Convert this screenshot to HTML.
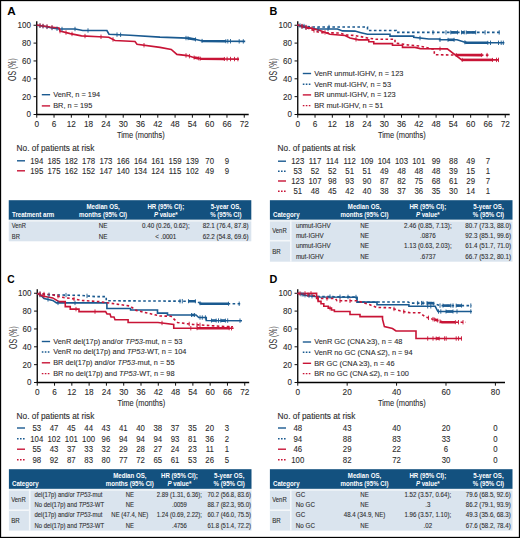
<!DOCTYPE html>
<html><head><meta charset="utf-8"><style>
html,body{margin:0;padding:0;background:#fff;width:520px;height:538px;overflow:hidden;position:relative;font-family:"Liberation Sans", sans-serif;}
</style></head><body>
<svg width="520" height="538" viewBox="0 0 520 538" style="position:absolute;left:0;top:0;font-family:'Liberation Sans', sans-serif">
<rect x="0" y="0" width="520" height="538" fill="#fff"/>
<text transform="translate(7.20,14.79) scale(1.080,1)" font-size="10.80" text-anchor="start" font-weight="bold" fill="#000">A</text>
<line x1="36.75" y1="21.20" x2="36.75" y2="115.10" stroke="#000" stroke-width="1.30"/>
<line x1="36.15" y1="114.50" x2="248.70" y2="114.50" stroke="#000" stroke-width="1.30"/>
<line x1="33.55" y1="114.50" x2="36.75" y2="114.50" stroke="#111" stroke-width="1.00"/>
<text transform="translate(31.00,117.49) scale(0.970,1)" font-size="8.30" text-anchor="end" font-weight="normal" fill="#2c2c2c" stroke="#2c2c2c" stroke-width="0.10">0</text>
<line x1="33.55" y1="96.65" x2="36.75" y2="96.65" stroke="#111" stroke-width="1.00"/>
<text transform="translate(31.00,99.64) scale(0.970,1)" font-size="8.30" text-anchor="end" font-weight="normal" fill="#2c2c2c" stroke="#2c2c2c" stroke-width="0.10">20</text>
<line x1="33.55" y1="78.80" x2="36.75" y2="78.80" stroke="#111" stroke-width="1.00"/>
<text transform="translate(31.00,81.79) scale(0.970,1)" font-size="8.30" text-anchor="end" font-weight="normal" fill="#2c2c2c" stroke="#2c2c2c" stroke-width="0.10">40</text>
<line x1="33.55" y1="60.95" x2="36.75" y2="60.95" stroke="#111" stroke-width="1.00"/>
<text transform="translate(31.00,63.94) scale(0.970,1)" font-size="8.30" text-anchor="end" font-weight="normal" fill="#2c2c2c" stroke="#2c2c2c" stroke-width="0.10">60</text>
<line x1="33.55" y1="43.10" x2="36.75" y2="43.10" stroke="#111" stroke-width="1.00"/>
<text transform="translate(31.00,46.09) scale(0.970,1)" font-size="8.30" text-anchor="end" font-weight="normal" fill="#2c2c2c" stroke="#2c2c2c" stroke-width="0.10">80</text>
<line x1="33.55" y1="25.25" x2="36.75" y2="25.25" stroke="#111" stroke-width="1.00"/>
<text transform="translate(31.00,28.24) scale(0.970,1)" font-size="8.30" text-anchor="end" font-weight="normal" fill="#2c2c2c" stroke="#2c2c2c" stroke-width="0.10">100</text>
<text transform="translate(16.40,69.60) rotate(-90) scale(0.69,1)" font-size="10.0" text-anchor="middle" fill="#2c2c2c">OS (%)</text>
<line x1="36.75" y1="114.50" x2="36.75" y2="117.70" stroke="#111" stroke-width="1.00"/>
<text transform="translate(36.75,126.86) scale(0.970,1)" font-size="8.50" text-anchor="middle" font-weight="normal" fill="#2c2c2c" stroke="#2c2c2c" stroke-width="0.10">0</text>
<line x1="54.04" y1="114.50" x2="54.04" y2="117.70" stroke="#111" stroke-width="1.00"/>
<text transform="translate(54.04,126.86) scale(0.970,1)" font-size="8.50" text-anchor="middle" font-weight="normal" fill="#2c2c2c" stroke="#2c2c2c" stroke-width="0.10">6</text>
<line x1="71.33" y1="114.50" x2="71.33" y2="117.70" stroke="#111" stroke-width="1.00"/>
<text transform="translate(71.33,126.86) scale(0.970,1)" font-size="8.50" text-anchor="middle" font-weight="normal" fill="#2c2c2c" stroke="#2c2c2c" stroke-width="0.10">12</text>
<line x1="88.62" y1="114.50" x2="88.62" y2="117.70" stroke="#111" stroke-width="1.00"/>
<text transform="translate(88.62,126.86) scale(0.970,1)" font-size="8.50" text-anchor="middle" font-weight="normal" fill="#2c2c2c" stroke="#2c2c2c" stroke-width="0.10">18</text>
<line x1="105.92" y1="114.50" x2="105.92" y2="117.70" stroke="#111" stroke-width="1.00"/>
<text transform="translate(105.92,126.86) scale(0.970,1)" font-size="8.50" text-anchor="middle" font-weight="normal" fill="#2c2c2c" stroke="#2c2c2c" stroke-width="0.10">24</text>
<line x1="123.21" y1="114.50" x2="123.21" y2="117.70" stroke="#111" stroke-width="1.00"/>
<text transform="translate(123.21,126.86) scale(0.970,1)" font-size="8.50" text-anchor="middle" font-weight="normal" fill="#2c2c2c" stroke="#2c2c2c" stroke-width="0.10">30</text>
<line x1="140.50" y1="114.50" x2="140.50" y2="117.70" stroke="#111" stroke-width="1.00"/>
<text transform="translate(140.50,126.86) scale(0.970,1)" font-size="8.50" text-anchor="middle" font-weight="normal" fill="#2c2c2c" stroke="#2c2c2c" stroke-width="0.10">36</text>
<line x1="157.79" y1="114.50" x2="157.79" y2="117.70" stroke="#111" stroke-width="1.00"/>
<text transform="translate(157.79,126.86) scale(0.970,1)" font-size="8.50" text-anchor="middle" font-weight="normal" fill="#2c2c2c" stroke="#2c2c2c" stroke-width="0.10">42</text>
<line x1="175.08" y1="114.50" x2="175.08" y2="117.70" stroke="#111" stroke-width="1.00"/>
<text transform="translate(175.08,126.86) scale(0.970,1)" font-size="8.50" text-anchor="middle" font-weight="normal" fill="#2c2c2c" stroke="#2c2c2c" stroke-width="0.10">48</text>
<line x1="192.38" y1="114.50" x2="192.38" y2="117.70" stroke="#111" stroke-width="1.00"/>
<text transform="translate(192.38,126.86) scale(0.970,1)" font-size="8.50" text-anchor="middle" font-weight="normal" fill="#2c2c2c" stroke="#2c2c2c" stroke-width="0.10">54</text>
<line x1="209.67" y1="114.50" x2="209.67" y2="117.70" stroke="#111" stroke-width="1.00"/>
<text transform="translate(209.67,126.86) scale(0.970,1)" font-size="8.50" text-anchor="middle" font-weight="normal" fill="#2c2c2c" stroke="#2c2c2c" stroke-width="0.10">60</text>
<line x1="226.96" y1="114.50" x2="226.96" y2="117.70" stroke="#111" stroke-width="1.00"/>
<text transform="translate(226.96,126.86) scale(0.970,1)" font-size="8.50" text-anchor="middle" font-weight="normal" fill="#2c2c2c" stroke="#2c2c2c" stroke-width="0.10">66</text>
<line x1="244.25" y1="114.50" x2="244.25" y2="117.70" stroke="#111" stroke-width="1.00"/>
<text transform="translate(244.25,126.86) scale(0.970,1)" font-size="8.50" text-anchor="middle" font-weight="normal" fill="#2c2c2c" stroke="#2c2c2c" stroke-width="0.10">72</text>
<text transform="translate(140.80,138.24) scale(0.830,1)" font-size="9.00" text-anchor="middle" font-weight="normal" fill="#2c2c2c" stroke="#2c2c2c" stroke-width="0.10">Time (months)</text>
<line x1="41.80" y1="94.70" x2="50.10" y2="94.70" stroke="#1a5a90" stroke-width="1.40"/>
<text transform="translate(53.20,97.02) scale(0.910,1)" font-size="8.10" text-anchor="start" font-weight="normal" fill="#2c2c2c" stroke="#2c2c2c" stroke-width="0.10">VenR, n = 194</text>
<line x1="41.80" y1="105.90" x2="50.10" y2="105.90" stroke="#c81436" stroke-width="1.40"/>
<text transform="translate(53.20,108.22) scale(0.910,1)" font-size="8.10" text-anchor="start" font-weight="normal" fill="#2c2c2c" stroke="#2c2c2c" stroke-width="0.10">BR, n = 195</text>
<polyline points="36.75,25.25 45.00,26.50 52.00,28.00 59.00,29.00 75.25,29.00 82.75,30.50 106.90,30.50 109.00,34.25 130.00,35.20 160.00,37.10 187.50,38.10 196.00,39.50 202.50,41.00 245.20,41.40" fill="none" stroke="#1a5a90" stroke-width="1.60" stroke-linejoin="miter" stroke-miterlimit="10"/>
<polyline points="36.75,25.00 50.00,27.00 59.00,28.00 60.00,31.10 70.25,33.60 81.50,35.90 99.00,36.70 108.75,37.25 115.00,40.50 135.00,41.50 137.00,44.25 160.00,47.40 171.25,49.40 176.90,54.40 187.50,55.60 193.75,57.50 201.00,58.75 239.00,59.10" fill="none" stroke="#c81436" stroke-width="1.60" stroke-linejoin="miter" stroke-miterlimit="10"/>
<line x1="40.00" y1="23.54" x2="40.00" y2="27.94" stroke="#1a5a90" stroke-width="0.90"/>
<line x1="43.00" y1="24.00" x2="43.00" y2="28.40" stroke="#1a5a90" stroke-width="0.90"/>
<line x1="47.00" y1="24.73" x2="47.00" y2="29.13" stroke="#1a5a90" stroke-width="0.90"/>
<line x1="52.00" y1="25.80" x2="52.00" y2="30.20" stroke="#1a5a90" stroke-width="0.90"/>
<line x1="57.00" y1="26.51" x2="57.00" y2="30.91" stroke="#1a5a90" stroke-width="0.90"/>
<line x1="62.00" y1="26.80" x2="62.00" y2="31.20" stroke="#1a5a90" stroke-width="0.90"/>
<line x1="75.00" y1="26.80" x2="75.00" y2="31.20" stroke="#1a5a90" stroke-width="0.90"/>
<line x1="88.00" y1="28.30" x2="88.00" y2="32.70" stroke="#1a5a90" stroke-width="0.90"/>
<line x1="117.00" y1="32.41" x2="117.00" y2="36.81" stroke="#1a5a90" stroke-width="0.90"/>
<line x1="120.60" y1="32.57" x2="120.60" y2="36.97" stroke="#1a5a90" stroke-width="0.90"/>
<line x1="186.00" y1="35.85" x2="186.00" y2="40.25" stroke="#1a5a90" stroke-width="0.90"/>
<line x1="227.80" y1="39.04" x2="227.80" y2="43.44" stroke="#1a5a90" stroke-width="0.90"/>
<line x1="230.50" y1="39.06" x2="230.50" y2="43.46" stroke="#1a5a90" stroke-width="0.90"/>
<line x1="239.20" y1="39.14" x2="239.20" y2="43.54" stroke="#1a5a90" stroke-width="0.90"/>
<line x1="243.30" y1="39.18" x2="243.30" y2="43.58" stroke="#1a5a90" stroke-width="0.90"/>
<polyline points="188.00,38.18 195.50,39.42" fill="none" stroke="#1a5a90" stroke-width="2.60" stroke-linejoin="miter" stroke-miterlimit="10"/>
<line x1="188.00" y1="36.18" x2="188.00" y2="40.18" stroke="#1a5a90" stroke-width="0.90"/>
<line x1="195.50" y1="37.42" x2="195.50" y2="41.42" stroke="#1a5a90" stroke-width="0.90"/>
<polyline points="202.00,40.88 202.50,41.00 225.80,41.22" fill="none" stroke="#1a5a90" stroke-width="2.60" stroke-linejoin="miter" stroke-miterlimit="10"/>
<line x1="202.00" y1="38.88" x2="202.00" y2="42.88" stroke="#1a5a90" stroke-width="0.90"/>
<line x1="225.80" y1="39.22" x2="225.80" y2="43.22" stroke="#1a5a90" stroke-width="0.90"/>
<line x1="40.00" y1="23.29" x2="40.00" y2="27.69" stroke="#c81436" stroke-width="0.90"/>
<line x1="43.00" y1="23.74" x2="43.00" y2="28.14" stroke="#c81436" stroke-width="0.90"/>
<line x1="47.00" y1="24.35" x2="47.00" y2="28.75" stroke="#c81436" stroke-width="0.90"/>
<line x1="52.00" y1="25.02" x2="52.00" y2="29.42" stroke="#c81436" stroke-width="0.90"/>
<line x1="60.00" y1="28.90" x2="60.00" y2="33.30" stroke="#c81436" stroke-width="0.90"/>
<line x1="66.00" y1="30.36" x2="66.00" y2="34.76" stroke="#c81436" stroke-width="0.90"/>
<line x1="72.00" y1="31.76" x2="72.00" y2="36.16" stroke="#c81436" stroke-width="0.90"/>
<line x1="85.00" y1="33.86" x2="85.00" y2="38.26" stroke="#c81436" stroke-width="0.90"/>
<line x1="101.00" y1="34.61" x2="101.00" y2="39.01" stroke="#c81436" stroke-width="0.90"/>
<line x1="113.00" y1="37.26" x2="113.00" y2="41.66" stroke="#c81436" stroke-width="0.90"/>
<line x1="144.00" y1="43.01" x2="144.00" y2="47.41" stroke="#c81436" stroke-width="0.90"/>
<line x1="186.00" y1="53.23" x2="186.00" y2="57.63" stroke="#c81436" stroke-width="0.90"/>
<line x1="189.40" y1="53.98" x2="189.40" y2="58.38" stroke="#c81436" stroke-width="0.90"/>
<line x1="227.10" y1="56.79" x2="227.10" y2="61.19" stroke="#c81436" stroke-width="0.90"/>
<line x1="230.50" y1="56.82" x2="230.50" y2="61.22" stroke="#c81436" stroke-width="0.90"/>
<line x1="234.50" y1="56.86" x2="234.50" y2="61.26" stroke="#c81436" stroke-width="0.90"/>
<line x1="237.90" y1="56.89" x2="237.90" y2="61.29" stroke="#c81436" stroke-width="0.90"/>
<polyline points="194.10,57.56 198.80,58.37" fill="none" stroke="#c81436" stroke-width="2.60" stroke-linejoin="miter" stroke-miterlimit="10"/>
<line x1="194.10" y1="55.56" x2="194.10" y2="59.56" stroke="#c81436" stroke-width="0.90"/>
<line x1="198.80" y1="56.37" x2="198.80" y2="60.37" stroke="#c81436" stroke-width="0.90"/>
<polyline points="200.20,58.61 201.00,58.75 224.40,58.97" fill="none" stroke="#c81436" stroke-width="2.60" stroke-linejoin="miter" stroke-miterlimit="10"/>
<line x1="200.20" y1="56.61" x2="200.20" y2="60.61" stroke="#c81436" stroke-width="0.90"/>
<line x1="224.40" y1="56.97" x2="224.40" y2="60.97" stroke="#c81436" stroke-width="0.90"/>
<text transform="translate(16.60,150.95) scale(1.010,1)" font-size="8.20" text-anchor="start" font-weight="normal" fill="#2c2c2c" stroke="#2c2c2c" stroke-width="0.10">No. of patients at risk</text>
<line x1="17.00" y1="160.80" x2="25.00" y2="160.80" stroke="#1a5a90" stroke-width="1.40"/>
<text transform="translate(36.75,163.79) scale(0.940,1)" font-size="8.30" text-anchor="middle" font-weight="normal" fill="#2c2c2c" stroke="#2c2c2c" stroke-width="0.10">194</text>
<text transform="translate(54.04,163.79) scale(0.940,1)" font-size="8.30" text-anchor="middle" font-weight="normal" fill="#2c2c2c" stroke="#2c2c2c" stroke-width="0.10">185</text>
<text transform="translate(71.33,163.79) scale(0.940,1)" font-size="8.30" text-anchor="middle" font-weight="normal" fill="#2c2c2c" stroke="#2c2c2c" stroke-width="0.10">182</text>
<text transform="translate(88.62,163.79) scale(0.940,1)" font-size="8.30" text-anchor="middle" font-weight="normal" fill="#2c2c2c" stroke="#2c2c2c" stroke-width="0.10">178</text>
<text transform="translate(105.92,163.79) scale(0.940,1)" font-size="8.30" text-anchor="middle" font-weight="normal" fill="#2c2c2c" stroke="#2c2c2c" stroke-width="0.10">173</text>
<text transform="translate(123.21,163.79) scale(0.940,1)" font-size="8.30" text-anchor="middle" font-weight="normal" fill="#2c2c2c" stroke="#2c2c2c" stroke-width="0.10">166</text>
<text transform="translate(140.50,163.79) scale(0.940,1)" font-size="8.30" text-anchor="middle" font-weight="normal" fill="#2c2c2c" stroke="#2c2c2c" stroke-width="0.10">164</text>
<text transform="translate(157.79,163.79) scale(0.940,1)" font-size="8.30" text-anchor="middle" font-weight="normal" fill="#2c2c2c" stroke="#2c2c2c" stroke-width="0.10">161</text>
<text transform="translate(175.08,163.79) scale(0.940,1)" font-size="8.30" text-anchor="middle" font-weight="normal" fill="#2c2c2c" stroke="#2c2c2c" stroke-width="0.10">159</text>
<text transform="translate(192.38,163.79) scale(0.940,1)" font-size="8.30" text-anchor="middle" font-weight="normal" fill="#2c2c2c" stroke="#2c2c2c" stroke-width="0.10">139</text>
<text transform="translate(209.67,163.79) scale(0.940,1)" font-size="8.30" text-anchor="middle" font-weight="normal" fill="#2c2c2c" stroke="#2c2c2c" stroke-width="0.10">70</text>
<text transform="translate(226.96,163.79) scale(0.940,1)" font-size="8.30" text-anchor="middle" font-weight="normal" fill="#2c2c2c" stroke="#2c2c2c" stroke-width="0.10">9</text>
<line x1="17.00" y1="170.80" x2="25.00" y2="170.80" stroke="#c81436" stroke-width="1.40"/>
<text transform="translate(36.75,173.79) scale(0.940,1)" font-size="8.30" text-anchor="middle" font-weight="normal" fill="#2c2c2c" stroke="#2c2c2c" stroke-width="0.10">195</text>
<text transform="translate(54.04,173.79) scale(0.940,1)" font-size="8.30" text-anchor="middle" font-weight="normal" fill="#2c2c2c" stroke="#2c2c2c" stroke-width="0.10">175</text>
<text transform="translate(71.33,173.79) scale(0.940,1)" font-size="8.30" text-anchor="middle" font-weight="normal" fill="#2c2c2c" stroke="#2c2c2c" stroke-width="0.10">162</text>
<text transform="translate(88.62,173.79) scale(0.940,1)" font-size="8.30" text-anchor="middle" font-weight="normal" fill="#2c2c2c" stroke="#2c2c2c" stroke-width="0.10">152</text>
<text transform="translate(105.92,173.79) scale(0.940,1)" font-size="8.30" text-anchor="middle" font-weight="normal" fill="#2c2c2c" stroke="#2c2c2c" stroke-width="0.10">147</text>
<text transform="translate(123.21,173.79) scale(0.940,1)" font-size="8.30" text-anchor="middle" font-weight="normal" fill="#2c2c2c" stroke="#2c2c2c" stroke-width="0.10">140</text>
<text transform="translate(140.50,173.79) scale(0.940,1)" font-size="8.30" text-anchor="middle" font-weight="normal" fill="#2c2c2c" stroke="#2c2c2c" stroke-width="0.10">134</text>
<text transform="translate(157.79,173.79) scale(0.940,1)" font-size="8.30" text-anchor="middle" font-weight="normal" fill="#2c2c2c" stroke="#2c2c2c" stroke-width="0.10">124</text>
<text transform="translate(175.08,173.79) scale(0.940,1)" font-size="8.30" text-anchor="middle" font-weight="normal" fill="#2c2c2c" stroke="#2c2c2c" stroke-width="0.10">115</text>
<text transform="translate(192.38,173.79) scale(0.940,1)" font-size="8.30" text-anchor="middle" font-weight="normal" fill="#2c2c2c" stroke="#2c2c2c" stroke-width="0.10">102</text>
<text transform="translate(209.67,173.79) scale(0.940,1)" font-size="8.30" text-anchor="middle" font-weight="normal" fill="#2c2c2c" stroke="#2c2c2c" stroke-width="0.10">49</text>
<text transform="translate(226.96,173.79) scale(0.940,1)" font-size="8.30" text-anchor="middle" font-weight="normal" fill="#2c2c2c" stroke="#2c2c2c" stroke-width="0.10">9</text>
<rect x="8.75" y="200.20" width="242.55" height="19.60" fill="#13517f"/>
<rect x="8.75" y="221.30" width="242.55" height="20.00" fill="#dae4ee"/>
<rect x="8.75" y="219.80" width="242.55" height="1.5" fill="#eef2f6"/>
<text transform="translate(12.00,216.78) scale(0.930,1)" font-size="6.60" text-anchor="start" font-weight="bold" fill="#fff">Treatment arm</text>
<text transform="translate(103.10,208.98) scale(0.930,1)" font-size="6.60" text-anchor="middle" font-weight="bold" fill="#fff">Median OS,</text>
<text transform="translate(103.10,216.78) scale(0.930,1)" font-size="6.60" text-anchor="middle" font-weight="bold" fill="#fff">months (95% CI)</text>
<text transform="translate(165.80,208.98) scale(0.930,1)" font-size="6.60" text-anchor="middle" font-weight="bold" fill="#fff">HR (95% CI);</text>
<text transform="translate(165.80,216.78) scale(0.930,1)" font-size="6.60" text-anchor="middle" font-weight="bold" fill="#fff"><tspan font-style="italic">P</tspan> value*</text>
<text transform="translate(225.80,208.98) scale(0.930,1)" font-size="6.60" text-anchor="middle" font-weight="bold" fill="#fff">5-year OS,</text>
<text transform="translate(225.80,216.78) scale(0.930,1)" font-size="6.60" text-anchor="middle" font-weight="bold" fill="#fff">% (95% CI)</text>
<text transform="translate(11.80,228.38) scale(0.880,1)" font-size="6.60" text-anchor="start" font-weight="normal" fill="#2e2e2e" stroke="#2e2e2e" stroke-width="0.10">VenR</text>
<text transform="translate(103.10,228.38) scale(0.950,1)" font-size="6.60" text-anchor="middle" font-weight="normal" fill="#2e2e2e" stroke="#2e2e2e" stroke-width="0.10">NE</text>
<text transform="translate(165.80,228.38) scale(0.950,1)" font-size="6.60" text-anchor="middle" font-weight="normal" fill="#2e2e2e" stroke="#2e2e2e" stroke-width="0.10">0.40 (0.26, 0.62);</text>
<text transform="translate(225.60,228.38) scale(0.950,1)" font-size="6.60" text-anchor="middle" font-weight="normal" fill="#2e2e2e" stroke="#2e2e2e" stroke-width="0.10">82.1 (76.4, 87.8)</text>
<text transform="translate(11.80,238.68) scale(0.880,1)" font-size="6.60" text-anchor="start" font-weight="normal" fill="#2e2e2e" stroke="#2e2e2e" stroke-width="0.10">BR</text>
<text transform="translate(103.10,238.68) scale(0.950,1)" font-size="6.60" text-anchor="middle" font-weight="normal" fill="#2e2e2e" stroke="#2e2e2e" stroke-width="0.10">NE</text>
<text transform="translate(165.80,238.68) scale(0.950,1)" font-size="6.60" text-anchor="middle" font-weight="normal" fill="#2e2e2e" stroke="#2e2e2e" stroke-width="0.10">&lt; .0001</text>
<text transform="translate(225.60,238.68) scale(0.950,1)" font-size="6.60" text-anchor="middle" font-weight="normal" fill="#2e2e2e" stroke="#2e2e2e" stroke-width="0.10">62.2 (54.8, 69.6)</text>
<text transform="translate(269.60,14.79) scale(1.000,1)" font-size="10.80" text-anchor="start" font-weight="bold" fill="#000">B</text>
<line x1="297.75" y1="21.20" x2="297.75" y2="115.10" stroke="#000" stroke-width="1.30"/>
<line x1="297.15" y1="114.50" x2="509.70" y2="114.50" stroke="#000" stroke-width="1.30"/>
<line x1="294.55" y1="114.50" x2="297.75" y2="114.50" stroke="#111" stroke-width="1.00"/>
<text transform="translate(292.00,117.49) scale(0.970,1)" font-size="8.30" text-anchor="end" font-weight="normal" fill="#2c2c2c" stroke="#2c2c2c" stroke-width="0.10">0</text>
<line x1="294.55" y1="96.65" x2="297.75" y2="96.65" stroke="#111" stroke-width="1.00"/>
<text transform="translate(292.00,99.64) scale(0.970,1)" font-size="8.30" text-anchor="end" font-weight="normal" fill="#2c2c2c" stroke="#2c2c2c" stroke-width="0.10">20</text>
<line x1="294.55" y1="78.80" x2="297.75" y2="78.80" stroke="#111" stroke-width="1.00"/>
<text transform="translate(292.00,81.79) scale(0.970,1)" font-size="8.30" text-anchor="end" font-weight="normal" fill="#2c2c2c" stroke="#2c2c2c" stroke-width="0.10">40</text>
<line x1="294.55" y1="60.95" x2="297.75" y2="60.95" stroke="#111" stroke-width="1.00"/>
<text transform="translate(292.00,63.94) scale(0.970,1)" font-size="8.30" text-anchor="end" font-weight="normal" fill="#2c2c2c" stroke="#2c2c2c" stroke-width="0.10">60</text>
<line x1="294.55" y1="43.10" x2="297.75" y2="43.10" stroke="#111" stroke-width="1.00"/>
<text transform="translate(292.00,46.09) scale(0.970,1)" font-size="8.30" text-anchor="end" font-weight="normal" fill="#2c2c2c" stroke="#2c2c2c" stroke-width="0.10">80</text>
<line x1="294.55" y1="25.25" x2="297.75" y2="25.25" stroke="#111" stroke-width="1.00"/>
<text transform="translate(292.00,28.24) scale(0.970,1)" font-size="8.30" text-anchor="end" font-weight="normal" fill="#2c2c2c" stroke="#2c2c2c" stroke-width="0.10">100</text>
<text transform="translate(277.40,69.60) rotate(-90) scale(0.69,1)" font-size="10.0" text-anchor="middle" fill="#2c2c2c">OS (%)</text>
<line x1="297.75" y1="114.50" x2="297.75" y2="117.70" stroke="#111" stroke-width="1.00"/>
<text transform="translate(297.75,126.86) scale(0.970,1)" font-size="8.50" text-anchor="middle" font-weight="normal" fill="#2c2c2c" stroke="#2c2c2c" stroke-width="0.10">0</text>
<line x1="315.04" y1="114.50" x2="315.04" y2="117.70" stroke="#111" stroke-width="1.00"/>
<text transform="translate(315.04,126.86) scale(0.970,1)" font-size="8.50" text-anchor="middle" font-weight="normal" fill="#2c2c2c" stroke="#2c2c2c" stroke-width="0.10">6</text>
<line x1="332.33" y1="114.50" x2="332.33" y2="117.70" stroke="#111" stroke-width="1.00"/>
<text transform="translate(332.33,126.86) scale(0.970,1)" font-size="8.50" text-anchor="middle" font-weight="normal" fill="#2c2c2c" stroke="#2c2c2c" stroke-width="0.10">12</text>
<line x1="349.62" y1="114.50" x2="349.62" y2="117.70" stroke="#111" stroke-width="1.00"/>
<text transform="translate(349.62,126.86) scale(0.970,1)" font-size="8.50" text-anchor="middle" font-weight="normal" fill="#2c2c2c" stroke="#2c2c2c" stroke-width="0.10">18</text>
<line x1="366.92" y1="114.50" x2="366.92" y2="117.70" stroke="#111" stroke-width="1.00"/>
<text transform="translate(366.92,126.86) scale(0.970,1)" font-size="8.50" text-anchor="middle" font-weight="normal" fill="#2c2c2c" stroke="#2c2c2c" stroke-width="0.10">24</text>
<line x1="384.21" y1="114.50" x2="384.21" y2="117.70" stroke="#111" stroke-width="1.00"/>
<text transform="translate(384.21,126.86) scale(0.970,1)" font-size="8.50" text-anchor="middle" font-weight="normal" fill="#2c2c2c" stroke="#2c2c2c" stroke-width="0.10">30</text>
<line x1="401.50" y1="114.50" x2="401.50" y2="117.70" stroke="#111" stroke-width="1.00"/>
<text transform="translate(401.50,126.86) scale(0.970,1)" font-size="8.50" text-anchor="middle" font-weight="normal" fill="#2c2c2c" stroke="#2c2c2c" stroke-width="0.10">36</text>
<line x1="418.79" y1="114.50" x2="418.79" y2="117.70" stroke="#111" stroke-width="1.00"/>
<text transform="translate(418.79,126.86) scale(0.970,1)" font-size="8.50" text-anchor="middle" font-weight="normal" fill="#2c2c2c" stroke="#2c2c2c" stroke-width="0.10">42</text>
<line x1="436.08" y1="114.50" x2="436.08" y2="117.70" stroke="#111" stroke-width="1.00"/>
<text transform="translate(436.08,126.86) scale(0.970,1)" font-size="8.50" text-anchor="middle" font-weight="normal" fill="#2c2c2c" stroke="#2c2c2c" stroke-width="0.10">48</text>
<line x1="453.38" y1="114.50" x2="453.38" y2="117.70" stroke="#111" stroke-width="1.00"/>
<text transform="translate(453.38,126.86) scale(0.970,1)" font-size="8.50" text-anchor="middle" font-weight="normal" fill="#2c2c2c" stroke="#2c2c2c" stroke-width="0.10">54</text>
<line x1="470.67" y1="114.50" x2="470.67" y2="117.70" stroke="#111" stroke-width="1.00"/>
<text transform="translate(470.67,126.86) scale(0.970,1)" font-size="8.50" text-anchor="middle" font-weight="normal" fill="#2c2c2c" stroke="#2c2c2c" stroke-width="0.10">60</text>
<line x1="487.96" y1="114.50" x2="487.96" y2="117.70" stroke="#111" stroke-width="1.00"/>
<text transform="translate(487.96,126.86) scale(0.970,1)" font-size="8.50" text-anchor="middle" font-weight="normal" fill="#2c2c2c" stroke="#2c2c2c" stroke-width="0.10">66</text>
<line x1="505.25" y1="114.50" x2="505.25" y2="117.70" stroke="#111" stroke-width="1.00"/>
<text transform="translate(505.25,126.86) scale(0.970,1)" font-size="8.50" text-anchor="middle" font-weight="normal" fill="#2c2c2c" stroke="#2c2c2c" stroke-width="0.10">72</text>
<text transform="translate(401.80,138.24) scale(0.830,1)" font-size="9.00" text-anchor="middle" font-weight="normal" fill="#2c2c2c" stroke="#2c2c2c" stroke-width="0.10">Time (months)</text>
<line x1="302.80" y1="73.50" x2="311.10" y2="73.50" stroke="#1a5a90" stroke-width="1.40"/>
<text transform="translate(314.20,75.82) scale(0.910,1)" font-size="8.10" text-anchor="start" font-weight="normal" fill="#2c2c2c" stroke="#2c2c2c" stroke-width="0.10">VenR unmut-IGHV, n = 123</text>
<line x1="302.80" y1="84.30" x2="311.10" y2="84.30" stroke="#1a5a90" stroke-width="1.40" stroke-dasharray="1.6,1.4"/>
<text transform="translate(314.20,86.62) scale(0.910,1)" font-size="8.10" text-anchor="start" font-weight="normal" fill="#2c2c2c" stroke="#2c2c2c" stroke-width="0.10">VenR mut-IGHV, n = 53</text>
<line x1="302.80" y1="94.90" x2="311.10" y2="94.90" stroke="#c81436" stroke-width="1.40"/>
<text transform="translate(314.20,97.22) scale(0.910,1)" font-size="8.10" text-anchor="start" font-weight="normal" fill="#2c2c2c" stroke="#2c2c2c" stroke-width="0.10">BR unmut-IGHV, n = 123</text>
<line x1="302.80" y1="105.60" x2="311.10" y2="105.60" stroke="#c81436" stroke-width="1.40" stroke-dasharray="1.6,1.4"/>
<text transform="translate(314.20,107.92) scale(0.910,1)" font-size="8.10" text-anchor="start" font-weight="normal" fill="#2c2c2c" stroke="#2c2c2c" stroke-width="0.10">BR mut-IGHV, n = 51</text>
<polyline points="297.50,25.25 306.00,27.50 316.00,29.00 337.50,29.00 342.50,30.90 355.00,31.10 360.00,32.40 367.50,34.25 390.00,34.25 390.00,36.10 413.75,36.10 413.75,37.40 428.75,39.00 439.60,39.00 439.60,39.80 457.00,39.80 466.50,42.80 504.40,42.80" fill="none" stroke="#1a5a90" stroke-width="1.60" stroke-linejoin="miter" stroke-miterlimit="10"/>
<polyline points="297.50,25.25 311.00,27.00 367.50,27.00 367.50,30.50 396.25,30.50 396.25,32.40 500.60,32.40" fill="none" stroke="#1a5a90" stroke-width="1.60" stroke-dasharray="2.6,2.4" stroke-linejoin="miter" stroke-miterlimit="10"/>
<polyline points="297.50,25.00 310.00,28.00 320.00,30.50 330.00,34.25 345.00,35.50 350.00,38.00 358.75,39.90 368.75,39.90 368.75,41.75 373.75,41.75 373.75,43.60 392.50,43.60 392.50,45.25 402.50,45.25 402.50,47.40 415.00,47.40 420.30,48.60 447.30,48.90 461.70,59.90 498.70,59.90" fill="none" stroke="#c81436" stroke-width="1.60" stroke-linejoin="miter" stroke-miterlimit="10"/>
<polyline points="297.50,25.00 310.00,29.00 320.00,32.75 340.00,33.00 345.00,34.90 355.00,35.50 367.50,38.00 376.00,39.25 395.00,39.25 395.00,43.00 407.50,44.90 420.00,46.10 434.30,49.40 434.30,54.70 452.00,55.00 488.60,55.10" fill="none" stroke="#c81436" stroke-width="1.60" stroke-dasharray="2.6,2.4" stroke-linejoin="miter" stroke-miterlimit="10"/>
<line x1="302.00" y1="24.24" x2="302.00" y2="28.64" stroke="#1a5a90" stroke-width="0.90"/>
<line x1="306.00" y1="25.30" x2="306.00" y2="29.70" stroke="#1a5a90" stroke-width="0.90"/>
<line x1="318.00" y1="26.80" x2="318.00" y2="31.20" stroke="#1a5a90" stroke-width="0.90"/>
<line x1="328.00" y1="26.80" x2="328.00" y2="31.20" stroke="#1a5a90" stroke-width="0.90"/>
<line x1="420.00" y1="35.87" x2="420.00" y2="40.27" stroke="#1a5a90" stroke-width="0.90"/>
<line x1="440.00" y1="37.60" x2="440.00" y2="42.00" stroke="#1a5a90" stroke-width="0.90"/>
<line x1="490.50" y1="40.60" x2="490.50" y2="45.00" stroke="#1a5a90" stroke-width="0.90"/>
<line x1="498.50" y1="40.60" x2="498.50" y2="45.00" stroke="#1a5a90" stroke-width="0.90"/>
<line x1="501.20" y1="40.60" x2="501.20" y2="45.00" stroke="#1a5a90" stroke-width="0.90"/>
<line x1="503.30" y1="40.60" x2="503.30" y2="45.00" stroke="#1a5a90" stroke-width="0.90"/>
<polyline points="448.00,39.80 454.10,39.80" fill="none" stroke="#1a5a90" stroke-width="2.60" stroke-linejoin="miter" stroke-miterlimit="10"/>
<line x1="448.00" y1="37.80" x2="448.00" y2="41.80" stroke="#1a5a90" stroke-width="0.90"/>
<line x1="454.10" y1="37.80" x2="454.10" y2="41.80" stroke="#1a5a90" stroke-width="0.90"/>
<polyline points="464.90,42.29 466.50,42.80 487.80,42.80" fill="none" stroke="#1a5a90" stroke-width="2.60" stroke-linejoin="miter" stroke-miterlimit="10"/>
<line x1="464.90" y1="40.29" x2="464.90" y2="44.29" stroke="#1a5a90" stroke-width="0.90"/>
<line x1="487.80" y1="40.80" x2="487.80" y2="44.80" stroke="#1a5a90" stroke-width="0.90"/>
<line x1="300.00" y1="23.37" x2="300.00" y2="27.77" stroke="#1a5a90" stroke-width="0.90"/>
<line x1="304.00" y1="23.89" x2="304.00" y2="28.29" stroke="#1a5a90" stroke-width="0.90"/>
<line x1="329.00" y1="24.80" x2="329.00" y2="29.20" stroke="#1a5a90" stroke-width="0.90"/>
<line x1="433.00" y1="30.20" x2="433.00" y2="34.60" stroke="#1a5a90" stroke-width="0.90"/>
<line x1="446.00" y1="30.20" x2="446.00" y2="34.60" stroke="#1a5a90" stroke-width="0.90"/>
<line x1="485.10" y1="30.20" x2="485.10" y2="34.60" stroke="#1a5a90" stroke-width="0.90"/>
<line x1="499.20" y1="30.20" x2="499.20" y2="34.60" stroke="#1a5a90" stroke-width="0.90"/>
<polyline points="450.80,32.40 457.50,32.40" fill="none" stroke="#1a5a90" stroke-width="2.60" stroke-linejoin="miter" stroke-miterlimit="10"/>
<line x1="450.80" y1="30.40" x2="450.80" y2="34.40" stroke="#1a5a90" stroke-width="0.90"/>
<line x1="457.50" y1="30.40" x2="457.50" y2="34.40" stroke="#1a5a90" stroke-width="0.90"/>
<polyline points="461.50,32.40 464.20,32.40" fill="none" stroke="#1a5a90" stroke-width="2.60" stroke-linejoin="miter" stroke-miterlimit="10"/>
<line x1="461.50" y1="30.40" x2="461.50" y2="34.40" stroke="#1a5a90" stroke-width="0.90"/>
<line x1="464.20" y1="30.40" x2="464.20" y2="34.40" stroke="#1a5a90" stroke-width="0.90"/>
<polyline points="466.20,32.40 475.70,32.40" fill="none" stroke="#1a5a90" stroke-width="2.60" stroke-linejoin="miter" stroke-miterlimit="10"/>
<line x1="466.20" y1="30.40" x2="466.20" y2="34.40" stroke="#1a5a90" stroke-width="0.90"/>
<line x1="475.70" y1="30.40" x2="475.70" y2="34.40" stroke="#1a5a90" stroke-width="0.90"/>
<line x1="302.00" y1="23.88" x2="302.00" y2="28.28" stroke="#c81436" stroke-width="0.90"/>
<line x1="306.00" y1="24.84" x2="306.00" y2="29.24" stroke="#c81436" stroke-width="0.90"/>
<line x1="312.00" y1="26.30" x2="312.00" y2="30.70" stroke="#c81436" stroke-width="0.90"/>
<line x1="325.00" y1="30.18" x2="325.00" y2="34.58" stroke="#c81436" stroke-width="0.90"/>
<line x1="356.00" y1="37.10" x2="356.00" y2="41.50" stroke="#c81436" stroke-width="0.90"/>
<line x1="440.00" y1="46.62" x2="440.00" y2="51.02" stroke="#c81436" stroke-width="0.90"/>
<line x1="496.50" y1="57.70" x2="496.50" y2="62.10" stroke="#c81436" stroke-width="0.90"/>
<line x1="498.50" y1="57.70" x2="498.50" y2="62.10" stroke="#c81436" stroke-width="0.90"/>
<polyline points="462.20,59.90 492.50,59.90" fill="none" stroke="#c81436" stroke-width="2.60" stroke-linejoin="miter" stroke-miterlimit="10"/>
<line x1="462.20" y1="57.90" x2="462.20" y2="61.90" stroke="#c81436" stroke-width="0.90"/>
<line x1="492.50" y1="57.90" x2="492.50" y2="61.90" stroke="#c81436" stroke-width="0.90"/>
<line x1="302.00" y1="24.24" x2="302.00" y2="28.64" stroke="#c81436" stroke-width="0.90"/>
<line x1="306.00" y1="25.52" x2="306.00" y2="29.92" stroke="#c81436" stroke-width="0.90"/>
<line x1="314.00" y1="28.30" x2="314.00" y2="32.70" stroke="#c81436" stroke-width="0.90"/>
<line x1="487.10" y1="52.90" x2="487.10" y2="57.30" stroke="#c81436" stroke-width="0.90"/>
<polyline points="456.20,55.01 481.70,55.08" fill="none" stroke="#c81436" stroke-width="2.60" stroke-linejoin="miter" stroke-miterlimit="10"/>
<line x1="456.20" y1="53.01" x2="456.20" y2="57.01" stroke="#c81436" stroke-width="0.90"/>
<line x1="481.70" y1="53.08" x2="481.70" y2="57.08" stroke="#c81436" stroke-width="0.90"/>
<text transform="translate(277.60,150.95) scale(1.010,1)" font-size="8.20" text-anchor="start" font-weight="normal" fill="#2c2c2c" stroke="#2c2c2c" stroke-width="0.10">No. of patients at risk</text>
<line x1="278.00" y1="161.20" x2="286.00" y2="161.20" stroke="#1a5a90" stroke-width="1.40"/>
<text transform="translate(297.75,164.19) scale(0.940,1)" font-size="8.30" text-anchor="middle" font-weight="normal" fill="#2c2c2c" stroke="#2c2c2c" stroke-width="0.10">123</text>
<text transform="translate(315.04,164.19) scale(0.940,1)" font-size="8.30" text-anchor="middle" font-weight="normal" fill="#2c2c2c" stroke="#2c2c2c" stroke-width="0.10">117</text>
<text transform="translate(332.33,164.19) scale(0.940,1)" font-size="8.30" text-anchor="middle" font-weight="normal" fill="#2c2c2c" stroke="#2c2c2c" stroke-width="0.10">114</text>
<text transform="translate(349.62,164.19) scale(0.940,1)" font-size="8.30" text-anchor="middle" font-weight="normal" fill="#2c2c2c" stroke="#2c2c2c" stroke-width="0.10">112</text>
<text transform="translate(366.92,164.19) scale(0.940,1)" font-size="8.30" text-anchor="middle" font-weight="normal" fill="#2c2c2c" stroke="#2c2c2c" stroke-width="0.10">109</text>
<text transform="translate(384.21,164.19) scale(0.940,1)" font-size="8.30" text-anchor="middle" font-weight="normal" fill="#2c2c2c" stroke="#2c2c2c" stroke-width="0.10">104</text>
<text transform="translate(401.50,164.19) scale(0.940,1)" font-size="8.30" text-anchor="middle" font-weight="normal" fill="#2c2c2c" stroke="#2c2c2c" stroke-width="0.10">103</text>
<text transform="translate(418.79,164.19) scale(0.940,1)" font-size="8.30" text-anchor="middle" font-weight="normal" fill="#2c2c2c" stroke="#2c2c2c" stroke-width="0.10">101</text>
<text transform="translate(436.08,164.19) scale(0.940,1)" font-size="8.30" text-anchor="middle" font-weight="normal" fill="#2c2c2c" stroke="#2c2c2c" stroke-width="0.10">99</text>
<text transform="translate(453.38,164.19) scale(0.940,1)" font-size="8.30" text-anchor="middle" font-weight="normal" fill="#2c2c2c" stroke="#2c2c2c" stroke-width="0.10">88</text>
<text transform="translate(470.67,164.19) scale(0.940,1)" font-size="8.30" text-anchor="middle" font-weight="normal" fill="#2c2c2c" stroke="#2c2c2c" stroke-width="0.10">49</text>
<text transform="translate(487.96,164.19) scale(0.940,1)" font-size="8.30" text-anchor="middle" font-weight="normal" fill="#2c2c2c" stroke="#2c2c2c" stroke-width="0.10">7</text>
<line x1="278.00" y1="171.20" x2="286.00" y2="171.20" stroke="#1a5a90" stroke-width="1.40" stroke-dasharray="1.6,1.4"/>
<text transform="translate(297.75,174.19) scale(0.940,1)" font-size="8.30" text-anchor="middle" font-weight="normal" fill="#2c2c2c" stroke="#2c2c2c" stroke-width="0.10">53</text>
<text transform="translate(315.04,174.19) scale(0.940,1)" font-size="8.30" text-anchor="middle" font-weight="normal" fill="#2c2c2c" stroke="#2c2c2c" stroke-width="0.10">52</text>
<text transform="translate(332.33,174.19) scale(0.940,1)" font-size="8.30" text-anchor="middle" font-weight="normal" fill="#2c2c2c" stroke="#2c2c2c" stroke-width="0.10">52</text>
<text transform="translate(349.62,174.19) scale(0.940,1)" font-size="8.30" text-anchor="middle" font-weight="normal" fill="#2c2c2c" stroke="#2c2c2c" stroke-width="0.10">51</text>
<text transform="translate(366.92,174.19) scale(0.940,1)" font-size="8.30" text-anchor="middle" font-weight="normal" fill="#2c2c2c" stroke="#2c2c2c" stroke-width="0.10">51</text>
<text transform="translate(384.21,174.19) scale(0.940,1)" font-size="8.30" text-anchor="middle" font-weight="normal" fill="#2c2c2c" stroke="#2c2c2c" stroke-width="0.10">49</text>
<text transform="translate(401.50,174.19) scale(0.940,1)" font-size="8.30" text-anchor="middle" font-weight="normal" fill="#2c2c2c" stroke="#2c2c2c" stroke-width="0.10">48</text>
<text transform="translate(418.79,174.19) scale(0.940,1)" font-size="8.30" text-anchor="middle" font-weight="normal" fill="#2c2c2c" stroke="#2c2c2c" stroke-width="0.10">48</text>
<text transform="translate(436.08,174.19) scale(0.940,1)" font-size="8.30" text-anchor="middle" font-weight="normal" fill="#2c2c2c" stroke="#2c2c2c" stroke-width="0.10">48</text>
<text transform="translate(453.38,174.19) scale(0.940,1)" font-size="8.30" text-anchor="middle" font-weight="normal" fill="#2c2c2c" stroke="#2c2c2c" stroke-width="0.10">39</text>
<text transform="translate(470.67,174.19) scale(0.940,1)" font-size="8.30" text-anchor="middle" font-weight="normal" fill="#2c2c2c" stroke="#2c2c2c" stroke-width="0.10">15</text>
<text transform="translate(487.96,174.19) scale(0.940,1)" font-size="8.30" text-anchor="middle" font-weight="normal" fill="#2c2c2c" stroke="#2c2c2c" stroke-width="0.10">1</text>
<line x1="278.00" y1="181.00" x2="286.00" y2="181.00" stroke="#c81436" stroke-width="1.40"/>
<text transform="translate(297.75,183.99) scale(0.940,1)" font-size="8.30" text-anchor="middle" font-weight="normal" fill="#2c2c2c" stroke="#2c2c2c" stroke-width="0.10">123</text>
<text transform="translate(315.04,183.99) scale(0.940,1)" font-size="8.30" text-anchor="middle" font-weight="normal" fill="#2c2c2c" stroke="#2c2c2c" stroke-width="0.10">107</text>
<text transform="translate(332.33,183.99) scale(0.940,1)" font-size="8.30" text-anchor="middle" font-weight="normal" fill="#2c2c2c" stroke="#2c2c2c" stroke-width="0.10">98</text>
<text transform="translate(349.62,183.99) scale(0.940,1)" font-size="8.30" text-anchor="middle" font-weight="normal" fill="#2c2c2c" stroke="#2c2c2c" stroke-width="0.10">93</text>
<text transform="translate(366.92,183.99) scale(0.940,1)" font-size="8.30" text-anchor="middle" font-weight="normal" fill="#2c2c2c" stroke="#2c2c2c" stroke-width="0.10">90</text>
<text transform="translate(384.21,183.99) scale(0.940,1)" font-size="8.30" text-anchor="middle" font-weight="normal" fill="#2c2c2c" stroke="#2c2c2c" stroke-width="0.10">87</text>
<text transform="translate(401.50,183.99) scale(0.940,1)" font-size="8.30" text-anchor="middle" font-weight="normal" fill="#2c2c2c" stroke="#2c2c2c" stroke-width="0.10">82</text>
<text transform="translate(418.79,183.99) scale(0.940,1)" font-size="8.30" text-anchor="middle" font-weight="normal" fill="#2c2c2c" stroke="#2c2c2c" stroke-width="0.10">75</text>
<text transform="translate(436.08,183.99) scale(0.940,1)" font-size="8.30" text-anchor="middle" font-weight="normal" fill="#2c2c2c" stroke="#2c2c2c" stroke-width="0.10">68</text>
<text transform="translate(453.38,183.99) scale(0.940,1)" font-size="8.30" text-anchor="middle" font-weight="normal" fill="#2c2c2c" stroke="#2c2c2c" stroke-width="0.10">61</text>
<text transform="translate(470.67,183.99) scale(0.940,1)" font-size="8.30" text-anchor="middle" font-weight="normal" fill="#2c2c2c" stroke="#2c2c2c" stroke-width="0.10">29</text>
<text transform="translate(487.96,183.99) scale(0.940,1)" font-size="8.30" text-anchor="middle" font-weight="normal" fill="#2c2c2c" stroke="#2c2c2c" stroke-width="0.10">7</text>
<line x1="278.00" y1="191.20" x2="286.00" y2="191.20" stroke="#c81436" stroke-width="1.40" stroke-dasharray="1.6,1.4"/>
<text transform="translate(297.75,194.19) scale(0.940,1)" font-size="8.30" text-anchor="middle" font-weight="normal" fill="#2c2c2c" stroke="#2c2c2c" stroke-width="0.10">51</text>
<text transform="translate(315.04,194.19) scale(0.940,1)" font-size="8.30" text-anchor="middle" font-weight="normal" fill="#2c2c2c" stroke="#2c2c2c" stroke-width="0.10">48</text>
<text transform="translate(332.33,194.19) scale(0.940,1)" font-size="8.30" text-anchor="middle" font-weight="normal" fill="#2c2c2c" stroke="#2c2c2c" stroke-width="0.10">45</text>
<text transform="translate(349.62,194.19) scale(0.940,1)" font-size="8.30" text-anchor="middle" font-weight="normal" fill="#2c2c2c" stroke="#2c2c2c" stroke-width="0.10">42</text>
<text transform="translate(366.92,194.19) scale(0.940,1)" font-size="8.30" text-anchor="middle" font-weight="normal" fill="#2c2c2c" stroke="#2c2c2c" stroke-width="0.10">40</text>
<text transform="translate(384.21,194.19) scale(0.940,1)" font-size="8.30" text-anchor="middle" font-weight="normal" fill="#2c2c2c" stroke="#2c2c2c" stroke-width="0.10">38</text>
<text transform="translate(401.50,194.19) scale(0.940,1)" font-size="8.30" text-anchor="middle" font-weight="normal" fill="#2c2c2c" stroke="#2c2c2c" stroke-width="0.10">37</text>
<text transform="translate(418.79,194.19) scale(0.940,1)" font-size="8.30" text-anchor="middle" font-weight="normal" fill="#2c2c2c" stroke="#2c2c2c" stroke-width="0.10">36</text>
<text transform="translate(436.08,194.19) scale(0.940,1)" font-size="8.30" text-anchor="middle" font-weight="normal" fill="#2c2c2c" stroke="#2c2c2c" stroke-width="0.10">35</text>
<text transform="translate(453.38,194.19) scale(0.940,1)" font-size="8.30" text-anchor="middle" font-weight="normal" fill="#2c2c2c" stroke="#2c2c2c" stroke-width="0.10">30</text>
<text transform="translate(470.67,194.19) scale(0.940,1)" font-size="8.30" text-anchor="middle" font-weight="normal" fill="#2c2c2c" stroke="#2c2c2c" stroke-width="0.10">14</text>
<text transform="translate(487.96,194.19) scale(0.940,1)" font-size="8.30" text-anchor="middle" font-weight="normal" fill="#2c2c2c" stroke="#2c2c2c" stroke-width="0.10">1</text>
<rect x="269.90" y="200.20" width="242.60" height="19.60" fill="#13517f"/>
<rect x="269.90" y="221.30" width="242.60" height="40.40" fill="#dae4ee"/>
<rect x="269.90" y="219.80" width="242.60" height="1.5" fill="#eef2f6"/>
<rect x="290.00" y="219.80" width="1.6" height="41.90" fill="#f4f7fa"/>
<rect x="269.90" y="239.90" width="20.10" height="1.6" fill="#f4f7fa"/>
<text transform="translate(273.00,216.98) scale(0.930,1)" font-size="6.60" text-anchor="start" font-weight="bold" fill="#fff">Category</text>
<text transform="translate(364.50,209.18) scale(0.930,1)" font-size="6.60" text-anchor="middle" font-weight="bold" fill="#fff">Median OS,</text>
<text transform="translate(364.50,216.98) scale(0.930,1)" font-size="6.60" text-anchor="middle" font-weight="bold" fill="#fff">months (95% CI)</text>
<text transform="translate(427.80,209.18) scale(0.930,1)" font-size="6.60" text-anchor="middle" font-weight="bold" fill="#fff">HR (95% CI);</text>
<text transform="translate(427.80,216.98) scale(0.930,1)" font-size="6.60" text-anchor="middle" font-weight="bold" fill="#fff"><tspan font-style="italic">P</tspan> value*</text>
<text transform="translate(488.50,209.18) scale(0.930,1)" font-size="6.60" text-anchor="middle" font-weight="bold" fill="#fff">5-year OS,</text>
<text transform="translate(488.50,216.98) scale(0.930,1)" font-size="6.60" text-anchor="middle" font-weight="bold" fill="#fff">% (95% CI)</text>
<text transform="translate(272.20,233.08) scale(0.900,1)" font-size="6.60" text-anchor="start" font-weight="normal" fill="#2e2e2e" stroke="#2e2e2e" stroke-width="0.10">VenR</text>
<text transform="translate(272.20,253.58) scale(0.930,1)" font-size="6.60" text-anchor="start" font-weight="normal" fill="#2e2e2e" stroke="#2e2e2e" stroke-width="0.10">BR</text>
<text transform="translate(295.90,227.98) scale(0.950,1)" font-size="6.60" text-anchor="start" font-weight="normal" fill="#2e2e2e" stroke="#2e2e2e" stroke-width="0.10">unmut-IGHV</text>
<text transform="translate(364.50,227.98) scale(0.950,1)" font-size="6.60" text-anchor="middle" font-weight="normal" fill="#2e2e2e" stroke="#2e2e2e" stroke-width="0.10">NE</text>
<text transform="translate(427.80,227.98) scale(0.950,1)" font-size="6.60" text-anchor="middle" font-weight="normal" fill="#2e2e2e" stroke="#2e2e2e" stroke-width="0.10">2.46 (0.85, 7.13);</text>
<text transform="translate(488.20,227.98) scale(0.950,1)" font-size="6.60" text-anchor="middle" font-weight="normal" fill="#2e2e2e" stroke="#2e2e2e" stroke-width="0.10">80.7 (73.3, 88.0)</text>
<text transform="translate(295.90,238.18) scale(0.950,1)" font-size="6.60" text-anchor="start" font-weight="normal" fill="#2e2e2e" stroke="#2e2e2e" stroke-width="0.10">mut-IGHV</text>
<text transform="translate(364.50,238.18) scale(0.950,1)" font-size="6.60" text-anchor="middle" font-weight="normal" fill="#2e2e2e" stroke="#2e2e2e" stroke-width="0.10">NE</text>
<text transform="translate(427.80,238.18) scale(0.950,1)" font-size="6.60" text-anchor="middle" font-weight="normal" fill="#2e2e2e" stroke="#2e2e2e" stroke-width="0.10">.0876</text>
<text transform="translate(488.20,238.18) scale(0.950,1)" font-size="6.60" text-anchor="middle" font-weight="normal" fill="#2e2e2e" stroke="#2e2e2e" stroke-width="0.10">92.3 (85.1, 99.6)</text>
<text transform="translate(295.90,248.48) scale(0.950,1)" font-size="6.60" text-anchor="start" font-weight="normal" fill="#2e2e2e" stroke="#2e2e2e" stroke-width="0.10">unmut-IGHV</text>
<text transform="translate(364.50,248.48) scale(0.950,1)" font-size="6.60" text-anchor="middle" font-weight="normal" fill="#2e2e2e" stroke="#2e2e2e" stroke-width="0.10">NE</text>
<text transform="translate(427.80,248.48) scale(0.950,1)" font-size="6.60" text-anchor="middle" font-weight="normal" fill="#2e2e2e" stroke="#2e2e2e" stroke-width="0.10">1.13 (0.63, 2.03);</text>
<text transform="translate(488.20,248.48) scale(0.950,1)" font-size="6.60" text-anchor="middle" font-weight="normal" fill="#2e2e2e" stroke="#2e2e2e" stroke-width="0.10">61.4 (51.7, 71.0)</text>
<text transform="translate(295.90,258.68) scale(0.950,1)" font-size="6.60" text-anchor="start" font-weight="normal" fill="#2e2e2e" stroke="#2e2e2e" stroke-width="0.10">mut-IGHV</text>
<text transform="translate(364.50,258.68) scale(0.950,1)" font-size="6.60" text-anchor="middle" font-weight="normal" fill="#2e2e2e" stroke="#2e2e2e" stroke-width="0.10">NE</text>
<text transform="translate(427.80,258.68) scale(0.950,1)" font-size="6.60" text-anchor="middle" font-weight="normal" fill="#2e2e2e" stroke="#2e2e2e" stroke-width="0.10">.6737</text>
<text transform="translate(488.20,258.68) scale(0.950,1)" font-size="6.60" text-anchor="middle" font-weight="normal" fill="#2e2e2e" stroke="#2e2e2e" stroke-width="0.10">66.7 (53.2, 80.1)</text>
<text transform="translate(7.30,282.79) scale(0.950,1)" font-size="10.80" text-anchor="start" font-weight="bold" fill="#000">C</text>
<line x1="37.25" y1="289.20" x2="37.25" y2="383.10" stroke="#000" stroke-width="1.30"/>
<line x1="36.65" y1="382.50" x2="249.20" y2="382.50" stroke="#000" stroke-width="1.30"/>
<line x1="34.05" y1="382.50" x2="37.25" y2="382.50" stroke="#111" stroke-width="1.00"/>
<text transform="translate(31.50,385.49) scale(0.970,1)" font-size="8.30" text-anchor="end" font-weight="normal" fill="#2c2c2c" stroke="#2c2c2c" stroke-width="0.10">0</text>
<line x1="34.05" y1="364.65" x2="37.25" y2="364.65" stroke="#111" stroke-width="1.00"/>
<text transform="translate(31.50,367.64) scale(0.970,1)" font-size="8.30" text-anchor="end" font-weight="normal" fill="#2c2c2c" stroke="#2c2c2c" stroke-width="0.10">20</text>
<line x1="34.05" y1="346.80" x2="37.25" y2="346.80" stroke="#111" stroke-width="1.00"/>
<text transform="translate(31.50,349.79) scale(0.970,1)" font-size="8.30" text-anchor="end" font-weight="normal" fill="#2c2c2c" stroke="#2c2c2c" stroke-width="0.10">40</text>
<line x1="34.05" y1="328.95" x2="37.25" y2="328.95" stroke="#111" stroke-width="1.00"/>
<text transform="translate(31.50,331.94) scale(0.970,1)" font-size="8.30" text-anchor="end" font-weight="normal" fill="#2c2c2c" stroke="#2c2c2c" stroke-width="0.10">60</text>
<line x1="34.05" y1="311.10" x2="37.25" y2="311.10" stroke="#111" stroke-width="1.00"/>
<text transform="translate(31.50,314.09) scale(0.970,1)" font-size="8.30" text-anchor="end" font-weight="normal" fill="#2c2c2c" stroke="#2c2c2c" stroke-width="0.10">80</text>
<line x1="34.05" y1="293.25" x2="37.25" y2="293.25" stroke="#111" stroke-width="1.00"/>
<text transform="translate(31.50,296.24) scale(0.970,1)" font-size="8.30" text-anchor="end" font-weight="normal" fill="#2c2c2c" stroke="#2c2c2c" stroke-width="0.10">100</text>
<text transform="translate(16.90,337.60) rotate(-90) scale(0.69,1)" font-size="10.0" text-anchor="middle" fill="#2c2c2c">OS (%)</text>
<line x1="37.25" y1="382.50" x2="37.25" y2="385.70" stroke="#111" stroke-width="1.00"/>
<text transform="translate(37.25,394.86) scale(0.970,1)" font-size="8.50" text-anchor="middle" font-weight="normal" fill="#2c2c2c" stroke="#2c2c2c" stroke-width="0.10">0</text>
<line x1="54.54" y1="382.50" x2="54.54" y2="385.70" stroke="#111" stroke-width="1.00"/>
<text transform="translate(54.54,394.86) scale(0.970,1)" font-size="8.50" text-anchor="middle" font-weight="normal" fill="#2c2c2c" stroke="#2c2c2c" stroke-width="0.10">6</text>
<line x1="71.83" y1="382.50" x2="71.83" y2="385.70" stroke="#111" stroke-width="1.00"/>
<text transform="translate(71.83,394.86) scale(0.970,1)" font-size="8.50" text-anchor="middle" font-weight="normal" fill="#2c2c2c" stroke="#2c2c2c" stroke-width="0.10">12</text>
<line x1="89.12" y1="382.50" x2="89.12" y2="385.70" stroke="#111" stroke-width="1.00"/>
<text transform="translate(89.12,394.86) scale(0.970,1)" font-size="8.50" text-anchor="middle" font-weight="normal" fill="#2c2c2c" stroke="#2c2c2c" stroke-width="0.10">18</text>
<line x1="106.42" y1="382.50" x2="106.42" y2="385.70" stroke="#111" stroke-width="1.00"/>
<text transform="translate(106.42,394.86) scale(0.970,1)" font-size="8.50" text-anchor="middle" font-weight="normal" fill="#2c2c2c" stroke="#2c2c2c" stroke-width="0.10">24</text>
<line x1="123.71" y1="382.50" x2="123.71" y2="385.70" stroke="#111" stroke-width="1.00"/>
<text transform="translate(123.71,394.86) scale(0.970,1)" font-size="8.50" text-anchor="middle" font-weight="normal" fill="#2c2c2c" stroke="#2c2c2c" stroke-width="0.10">30</text>
<line x1="141.00" y1="382.50" x2="141.00" y2="385.70" stroke="#111" stroke-width="1.00"/>
<text transform="translate(141.00,394.86) scale(0.970,1)" font-size="8.50" text-anchor="middle" font-weight="normal" fill="#2c2c2c" stroke="#2c2c2c" stroke-width="0.10">36</text>
<line x1="158.29" y1="382.50" x2="158.29" y2="385.70" stroke="#111" stroke-width="1.00"/>
<text transform="translate(158.29,394.86) scale(0.970,1)" font-size="8.50" text-anchor="middle" font-weight="normal" fill="#2c2c2c" stroke="#2c2c2c" stroke-width="0.10">42</text>
<line x1="175.58" y1="382.50" x2="175.58" y2="385.70" stroke="#111" stroke-width="1.00"/>
<text transform="translate(175.58,394.86) scale(0.970,1)" font-size="8.50" text-anchor="middle" font-weight="normal" fill="#2c2c2c" stroke="#2c2c2c" stroke-width="0.10">48</text>
<line x1="192.88" y1="382.50" x2="192.88" y2="385.70" stroke="#111" stroke-width="1.00"/>
<text transform="translate(192.88,394.86) scale(0.970,1)" font-size="8.50" text-anchor="middle" font-weight="normal" fill="#2c2c2c" stroke="#2c2c2c" stroke-width="0.10">54</text>
<line x1="210.17" y1="382.50" x2="210.17" y2="385.70" stroke="#111" stroke-width="1.00"/>
<text transform="translate(210.17,394.86) scale(0.970,1)" font-size="8.50" text-anchor="middle" font-weight="normal" fill="#2c2c2c" stroke="#2c2c2c" stroke-width="0.10">60</text>
<line x1="227.46" y1="382.50" x2="227.46" y2="385.70" stroke="#111" stroke-width="1.00"/>
<text transform="translate(227.46,394.86) scale(0.970,1)" font-size="8.50" text-anchor="middle" font-weight="normal" fill="#2c2c2c" stroke="#2c2c2c" stroke-width="0.10">66</text>
<line x1="244.75" y1="382.50" x2="244.75" y2="385.70" stroke="#111" stroke-width="1.00"/>
<text transform="translate(244.75,394.86) scale(0.970,1)" font-size="8.50" text-anchor="middle" font-weight="normal" fill="#2c2c2c" stroke="#2c2c2c" stroke-width="0.10">72</text>
<text transform="translate(141.30,406.24) scale(0.830,1)" font-size="9.00" text-anchor="middle" font-weight="normal" fill="#2c2c2c" stroke="#2c2c2c" stroke-width="0.10">Time (months)</text>
<line x1="41.80" y1="341.50" x2="50.10" y2="341.50" stroke="#1a5a90" stroke-width="1.40"/>
<text transform="translate(53.20,343.82) scale(0.910,1)" font-size="8.10" text-anchor="start" font-weight="normal" fill="#2c2c2c" stroke="#2c2c2c" stroke-width="0.10">VenR del(17p) and/or <tspan font-style="italic">TP53</tspan>-mut, n = 53</text>
<line x1="41.80" y1="352.00" x2="50.10" y2="352.00" stroke="#1a5a90" stroke-width="1.40" stroke-dasharray="1.6,1.4"/>
<text transform="translate(53.20,354.32) scale(0.910,1)" font-size="8.10" text-anchor="start" font-weight="normal" fill="#2c2c2c" stroke="#2c2c2c" stroke-width="0.10">VenR no del(17p) and <tspan font-style="italic">TP53</tspan>-WT, n = 104</text>
<line x1="41.80" y1="362.80" x2="50.10" y2="362.80" stroke="#c81436" stroke-width="1.40"/>
<text transform="translate(53.20,365.12) scale(0.910,1)" font-size="8.10" text-anchor="start" font-weight="normal" fill="#2c2c2c" stroke="#2c2c2c" stroke-width="0.10">BR del(17p) and/or <tspan font-style="italic">TP53</tspan>-mut, n = 55</text>
<line x1="41.80" y1="373.60" x2="50.10" y2="373.60" stroke="#c81436" stroke-width="1.40" stroke-dasharray="1.6,1.4"/>
<text transform="translate(53.20,375.92) scale(0.910,1)" font-size="8.10" text-anchor="start" font-weight="normal" fill="#2c2c2c" stroke="#2c2c2c" stroke-width="0.10">BR no del(17p) and <tspan font-style="italic">TP53</tspan>-WT, n = 98</text>
<polyline points="37.50,293.50 41.50,296.00 44.00,298.50 52.75,300.40 56.50,302.90 106.90,302.90 106.90,308.50 130.60,308.50 130.60,310.00 157.50,310.00 157.50,313.10 167.50,313.10 167.50,315.00 196.00,315.00 198.75,317.50 206.25,317.50 206.25,320.50 242.00,320.70" fill="none" stroke="#1a5a90" stroke-width="1.60" stroke-linejoin="miter" stroke-miterlimit="10"/>
<polyline points="37.50,293.50 47.75,294.75 81.50,295.40 95.00,296.60 106.25,296.60 106.25,300.75 196.25,301.25 201.00,303.75 241.00,303.75" fill="none" stroke="#1a5a90" stroke-width="1.60" stroke-dasharray="2.6,2.4" stroke-linejoin="miter" stroke-miterlimit="10"/>
<polyline points="37.50,293.50 42.75,296.00 52.75,297.90 59.00,301.60 65.25,301.60 65.25,306.60 70.25,306.60 70.25,309.10 79.00,309.10 79.00,311.60 105.60,311.60 107.00,314.00 110.00,314.00 111.00,317.00 114.00,317.00 115.00,319.75 128.10,319.75 128.10,322.50 158.00,322.50 173.75,324.40 173.75,328.20 233.60,328.20" fill="none" stroke="#c81436" stroke-width="1.60" stroke-linejoin="miter" stroke-miterlimit="10"/>
<polyline points="37.50,293.50 52.75,294.75 61.50,297.25 71.50,298.50 81.50,300.40 99.00,301.60 130.00,306.00 136.25,310.40 160.00,316.00 171.00,316.25 177.50,322.50 192.50,324.40 220.00,326.30 233.00,326.80" fill="none" stroke="#c81436" stroke-width="1.60" stroke-dasharray="2.6,2.4" stroke-linejoin="miter" stroke-miterlimit="10"/>
<line x1="40.00" y1="292.86" x2="40.00" y2="297.26" stroke="#1a5a90" stroke-width="0.90"/>
<line x1="48.00" y1="297.17" x2="48.00" y2="301.57" stroke="#1a5a90" stroke-width="0.90"/>
<line x1="58.00" y1="300.70" x2="58.00" y2="305.10" stroke="#1a5a90" stroke-width="0.90"/>
<line x1="75.00" y1="300.70" x2="75.00" y2="305.10" stroke="#1a5a90" stroke-width="0.90"/>
<line x1="200.00" y1="315.30" x2="200.00" y2="319.70" stroke="#1a5a90" stroke-width="0.90"/>
<line x1="202.30" y1="315.30" x2="202.30" y2="319.70" stroke="#1a5a90" stroke-width="0.90"/>
<line x1="205.40" y1="315.30" x2="205.40" y2="319.70" stroke="#1a5a90" stroke-width="0.90"/>
<line x1="218.50" y1="318.37" x2="218.50" y2="322.77" stroke="#1a5a90" stroke-width="0.90"/>
<line x1="227.70" y1="318.42" x2="227.70" y2="322.82" stroke="#1a5a90" stroke-width="0.90"/>
<line x1="240.00" y1="318.49" x2="240.00" y2="322.89" stroke="#1a5a90" stroke-width="0.90"/>
<polyline points="191.50,315.00 194.60,315.00" fill="none" stroke="#1a5a90" stroke-width="2.60" stroke-linejoin="miter" stroke-miterlimit="10"/>
<line x1="191.50" y1="313.00" x2="191.50" y2="317.00" stroke="#1a5a90" stroke-width="0.90"/>
<line x1="194.60" y1="313.00" x2="194.60" y2="317.00" stroke="#1a5a90" stroke-width="0.90"/>
<polyline points="211.50,320.53 216.20,320.56" fill="none" stroke="#1a5a90" stroke-width="2.60" stroke-linejoin="miter" stroke-miterlimit="10"/>
<line x1="211.50" y1="318.53" x2="211.50" y2="322.53" stroke="#1a5a90" stroke-width="0.90"/>
<line x1="216.20" y1="318.56" x2="216.20" y2="322.56" stroke="#1a5a90" stroke-width="0.90"/>
<polyline points="220.80,320.58 225.40,320.61" fill="none" stroke="#1a5a90" stroke-width="2.60" stroke-linejoin="miter" stroke-miterlimit="10"/>
<line x1="220.80" y1="318.58" x2="220.80" y2="322.58" stroke="#1a5a90" stroke-width="0.90"/>
<line x1="225.40" y1="318.61" x2="225.40" y2="322.61" stroke="#1a5a90" stroke-width="0.90"/>
<line x1="40.00" y1="291.60" x2="40.00" y2="296.00" stroke="#1a5a90" stroke-width="0.90"/>
<line x1="49.00" y1="292.57" x2="49.00" y2="296.97" stroke="#1a5a90" stroke-width="0.90"/>
<line x1="66.00" y1="292.90" x2="66.00" y2="297.30" stroke="#1a5a90" stroke-width="0.90"/>
<line x1="87.00" y1="293.69" x2="87.00" y2="298.09" stroke="#1a5a90" stroke-width="0.90"/>
<line x1="180.00" y1="298.96" x2="180.00" y2="303.36" stroke="#1a5a90" stroke-width="0.90"/>
<line x1="182.30" y1="298.97" x2="182.30" y2="303.37" stroke="#1a5a90" stroke-width="0.90"/>
<line x1="239.20" y1="301.55" x2="239.20" y2="305.95" stroke="#1a5a90" stroke-width="0.90"/>
<polyline points="188.50,301.21 195.40,301.25" fill="none" stroke="#1a5a90" stroke-width="2.60" stroke-linejoin="miter" stroke-miterlimit="10"/>
<line x1="188.50" y1="299.21" x2="188.50" y2="303.21" stroke="#1a5a90" stroke-width="0.90"/>
<line x1="195.40" y1="299.25" x2="195.40" y2="303.25" stroke="#1a5a90" stroke-width="0.90"/>
<polyline points="200.00,303.22 201.00,303.75 228.50,303.75" fill="none" stroke="#1a5a90" stroke-width="2.60" stroke-linejoin="miter" stroke-miterlimit="10"/>
<line x1="200.00" y1="301.22" x2="200.00" y2="305.22" stroke="#1a5a90" stroke-width="0.90"/>
<line x1="228.50" y1="301.75" x2="228.50" y2="305.75" stroke="#1a5a90" stroke-width="0.90"/>
<line x1="40.00" y1="292.49" x2="40.00" y2="296.89" stroke="#c81436" stroke-width="0.90"/>
<line x1="44.00" y1="294.04" x2="44.00" y2="298.44" stroke="#c81436" stroke-width="0.90"/>
<line x1="76.00" y1="306.90" x2="76.00" y2="311.30" stroke="#c81436" stroke-width="0.90"/>
<line x1="95.00" y1="309.40" x2="95.00" y2="313.80" stroke="#c81436" stroke-width="0.90"/>
<line x1="162.00" y1="320.78" x2="162.00" y2="325.18" stroke="#c81436" stroke-width="0.90"/>
<line x1="190.80" y1="326.00" x2="190.80" y2="330.40" stroke="#c81436" stroke-width="0.90"/>
<line x1="231.50" y1="326.00" x2="231.50" y2="330.40" stroke="#c81436" stroke-width="0.90"/>
<polyline points="197.00,328.20 229.20,328.20" fill="none" stroke="#c81436" stroke-width="2.60" stroke-linejoin="miter" stroke-miterlimit="10"/>
<line x1="197.00" y1="326.20" x2="197.00" y2="330.20" stroke="#c81436" stroke-width="0.90"/>
<line x1="229.20" y1="326.20" x2="229.20" y2="330.20" stroke="#c81436" stroke-width="0.90"/>
<line x1="40.00" y1="291.50" x2="40.00" y2="295.90" stroke="#c81436" stroke-width="0.90"/>
<line x1="44.00" y1="291.83" x2="44.00" y2="296.23" stroke="#c81436" stroke-width="0.90"/>
<line x1="58.00" y1="294.05" x2="58.00" y2="298.45" stroke="#c81436" stroke-width="0.90"/>
<line x1="74.00" y1="296.78" x2="74.00" y2="301.18" stroke="#c81436" stroke-width="0.90"/>
<line x1="189.20" y1="321.78" x2="189.20" y2="326.18" stroke="#c81436" stroke-width="0.90"/>
<line x1="197.00" y1="322.51" x2="197.00" y2="326.91" stroke="#c81436" stroke-width="0.90"/>
<line x1="200.00" y1="322.72" x2="200.00" y2="327.12" stroke="#c81436" stroke-width="0.90"/>
<text transform="translate(16.60,419.25) scale(1.010,1)" font-size="8.20" text-anchor="start" font-weight="normal" fill="#2c2c2c" stroke="#2c2c2c" stroke-width="0.10">No. of patients at risk</text>
<line x1="17.00" y1="428.00" x2="25.00" y2="428.00" stroke="#1a5a90" stroke-width="1.40"/>
<text transform="translate(36.75,430.99) scale(0.940,1)" font-size="8.30" text-anchor="middle" font-weight="normal" fill="#2c2c2c" stroke="#2c2c2c" stroke-width="0.10">53</text>
<text transform="translate(54.04,430.99) scale(0.940,1)" font-size="8.30" text-anchor="middle" font-weight="normal" fill="#2c2c2c" stroke="#2c2c2c" stroke-width="0.10">47</text>
<text transform="translate(71.33,430.99) scale(0.940,1)" font-size="8.30" text-anchor="middle" font-weight="normal" fill="#2c2c2c" stroke="#2c2c2c" stroke-width="0.10">45</text>
<text transform="translate(88.62,430.99) scale(0.940,1)" font-size="8.30" text-anchor="middle" font-weight="normal" fill="#2c2c2c" stroke="#2c2c2c" stroke-width="0.10">44</text>
<text transform="translate(105.92,430.99) scale(0.940,1)" font-size="8.30" text-anchor="middle" font-weight="normal" fill="#2c2c2c" stroke="#2c2c2c" stroke-width="0.10">43</text>
<text transform="translate(123.21,430.99) scale(0.940,1)" font-size="8.30" text-anchor="middle" font-weight="normal" fill="#2c2c2c" stroke="#2c2c2c" stroke-width="0.10">41</text>
<text transform="translate(140.50,430.99) scale(0.940,1)" font-size="8.30" text-anchor="middle" font-weight="normal" fill="#2c2c2c" stroke="#2c2c2c" stroke-width="0.10">40</text>
<text transform="translate(157.79,430.99) scale(0.940,1)" font-size="8.30" text-anchor="middle" font-weight="normal" fill="#2c2c2c" stroke="#2c2c2c" stroke-width="0.10">38</text>
<text transform="translate(175.08,430.99) scale(0.940,1)" font-size="8.30" text-anchor="middle" font-weight="normal" fill="#2c2c2c" stroke="#2c2c2c" stroke-width="0.10">37</text>
<text transform="translate(192.38,430.99) scale(0.940,1)" font-size="8.30" text-anchor="middle" font-weight="normal" fill="#2c2c2c" stroke="#2c2c2c" stroke-width="0.10">35</text>
<text transform="translate(209.67,430.99) scale(0.940,1)" font-size="8.30" text-anchor="middle" font-weight="normal" fill="#2c2c2c" stroke="#2c2c2c" stroke-width="0.10">20</text>
<text transform="translate(226.96,430.99) scale(0.940,1)" font-size="8.30" text-anchor="middle" font-weight="normal" fill="#2c2c2c" stroke="#2c2c2c" stroke-width="0.10">3</text>
<line x1="17.00" y1="438.70" x2="25.00" y2="438.70" stroke="#1a5a90" stroke-width="1.40" stroke-dasharray="1.6,1.4"/>
<text transform="translate(36.75,441.69) scale(0.940,1)" font-size="8.30" text-anchor="middle" font-weight="normal" fill="#2c2c2c" stroke="#2c2c2c" stroke-width="0.10">104</text>
<text transform="translate(54.04,441.69) scale(0.940,1)" font-size="8.30" text-anchor="middle" font-weight="normal" fill="#2c2c2c" stroke="#2c2c2c" stroke-width="0.10">102</text>
<text transform="translate(71.33,441.69) scale(0.940,1)" font-size="8.30" text-anchor="middle" font-weight="normal" fill="#2c2c2c" stroke="#2c2c2c" stroke-width="0.10">101</text>
<text transform="translate(88.62,441.69) scale(0.940,1)" font-size="8.30" text-anchor="middle" font-weight="normal" fill="#2c2c2c" stroke="#2c2c2c" stroke-width="0.10">100</text>
<text transform="translate(105.92,441.69) scale(0.940,1)" font-size="8.30" text-anchor="middle" font-weight="normal" fill="#2c2c2c" stroke="#2c2c2c" stroke-width="0.10">96</text>
<text transform="translate(123.21,441.69) scale(0.940,1)" font-size="8.30" text-anchor="middle" font-weight="normal" fill="#2c2c2c" stroke="#2c2c2c" stroke-width="0.10">94</text>
<text transform="translate(140.50,441.69) scale(0.940,1)" font-size="8.30" text-anchor="middle" font-weight="normal" fill="#2c2c2c" stroke="#2c2c2c" stroke-width="0.10">94</text>
<text transform="translate(157.79,441.69) scale(0.940,1)" font-size="8.30" text-anchor="middle" font-weight="normal" fill="#2c2c2c" stroke="#2c2c2c" stroke-width="0.10">94</text>
<text transform="translate(175.08,441.69) scale(0.940,1)" font-size="8.30" text-anchor="middle" font-weight="normal" fill="#2c2c2c" stroke="#2c2c2c" stroke-width="0.10">93</text>
<text transform="translate(192.38,441.69) scale(0.940,1)" font-size="8.30" text-anchor="middle" font-weight="normal" fill="#2c2c2c" stroke="#2c2c2c" stroke-width="0.10">81</text>
<text transform="translate(209.67,441.69) scale(0.940,1)" font-size="8.30" text-anchor="middle" font-weight="normal" fill="#2c2c2c" stroke="#2c2c2c" stroke-width="0.10">36</text>
<text transform="translate(226.96,441.69) scale(0.940,1)" font-size="8.30" text-anchor="middle" font-weight="normal" fill="#2c2c2c" stroke="#2c2c2c" stroke-width="0.10">2</text>
<line x1="17.00" y1="449.20" x2="25.00" y2="449.20" stroke="#c81436" stroke-width="1.40"/>
<text transform="translate(36.75,452.19) scale(0.940,1)" font-size="8.30" text-anchor="middle" font-weight="normal" fill="#2c2c2c" stroke="#2c2c2c" stroke-width="0.10">55</text>
<text transform="translate(54.04,452.19) scale(0.940,1)" font-size="8.30" text-anchor="middle" font-weight="normal" fill="#2c2c2c" stroke="#2c2c2c" stroke-width="0.10">43</text>
<text transform="translate(71.33,452.19) scale(0.940,1)" font-size="8.30" text-anchor="middle" font-weight="normal" fill="#2c2c2c" stroke="#2c2c2c" stroke-width="0.10">37</text>
<text transform="translate(88.62,452.19) scale(0.940,1)" font-size="8.30" text-anchor="middle" font-weight="normal" fill="#2c2c2c" stroke="#2c2c2c" stroke-width="0.10">33</text>
<text transform="translate(105.92,452.19) scale(0.940,1)" font-size="8.30" text-anchor="middle" font-weight="normal" fill="#2c2c2c" stroke="#2c2c2c" stroke-width="0.10">32</text>
<text transform="translate(123.21,452.19) scale(0.940,1)" font-size="8.30" text-anchor="middle" font-weight="normal" fill="#2c2c2c" stroke="#2c2c2c" stroke-width="0.10">29</text>
<text transform="translate(140.50,452.19) scale(0.940,1)" font-size="8.30" text-anchor="middle" font-weight="normal" fill="#2c2c2c" stroke="#2c2c2c" stroke-width="0.10">28</text>
<text transform="translate(157.79,452.19) scale(0.940,1)" font-size="8.30" text-anchor="middle" font-weight="normal" fill="#2c2c2c" stroke="#2c2c2c" stroke-width="0.10">27</text>
<text transform="translate(175.08,452.19) scale(0.940,1)" font-size="8.30" text-anchor="middle" font-weight="normal" fill="#2c2c2c" stroke="#2c2c2c" stroke-width="0.10">24</text>
<text transform="translate(192.38,452.19) scale(0.940,1)" font-size="8.30" text-anchor="middle" font-weight="normal" fill="#2c2c2c" stroke="#2c2c2c" stroke-width="0.10">23</text>
<text transform="translate(209.67,452.19) scale(0.940,1)" font-size="8.30" text-anchor="middle" font-weight="normal" fill="#2c2c2c" stroke="#2c2c2c" stroke-width="0.10">11</text>
<text transform="translate(226.96,452.19) scale(0.940,1)" font-size="8.30" text-anchor="middle" font-weight="normal" fill="#2c2c2c" stroke="#2c2c2c" stroke-width="0.10">1</text>
<line x1="17.00" y1="459.80" x2="25.00" y2="459.80" stroke="#c81436" stroke-width="1.40" stroke-dasharray="1.6,1.4"/>
<text transform="translate(36.75,462.79) scale(0.940,1)" font-size="8.30" text-anchor="middle" font-weight="normal" fill="#2c2c2c" stroke="#2c2c2c" stroke-width="0.10">98</text>
<text transform="translate(54.04,462.79) scale(0.940,1)" font-size="8.30" text-anchor="middle" font-weight="normal" fill="#2c2c2c" stroke="#2c2c2c" stroke-width="0.10">92</text>
<text transform="translate(71.33,462.79) scale(0.940,1)" font-size="8.30" text-anchor="middle" font-weight="normal" fill="#2c2c2c" stroke="#2c2c2c" stroke-width="0.10">87</text>
<text transform="translate(88.62,462.79) scale(0.940,1)" font-size="8.30" text-anchor="middle" font-weight="normal" fill="#2c2c2c" stroke="#2c2c2c" stroke-width="0.10">83</text>
<text transform="translate(105.92,462.79) scale(0.940,1)" font-size="8.30" text-anchor="middle" font-weight="normal" fill="#2c2c2c" stroke="#2c2c2c" stroke-width="0.10">80</text>
<text transform="translate(123.21,462.79) scale(0.940,1)" font-size="8.30" text-anchor="middle" font-weight="normal" fill="#2c2c2c" stroke="#2c2c2c" stroke-width="0.10">77</text>
<text transform="translate(140.50,462.79) scale(0.940,1)" font-size="8.30" text-anchor="middle" font-weight="normal" fill="#2c2c2c" stroke="#2c2c2c" stroke-width="0.10">72</text>
<text transform="translate(157.79,462.79) scale(0.940,1)" font-size="8.30" text-anchor="middle" font-weight="normal" fill="#2c2c2c" stroke="#2c2c2c" stroke-width="0.10">65</text>
<text transform="translate(175.08,462.79) scale(0.940,1)" font-size="8.30" text-anchor="middle" font-weight="normal" fill="#2c2c2c" stroke="#2c2c2c" stroke-width="0.10">61</text>
<text transform="translate(192.38,462.79) scale(0.940,1)" font-size="8.30" text-anchor="middle" font-weight="normal" fill="#2c2c2c" stroke="#2c2c2c" stroke-width="0.10">53</text>
<text transform="translate(209.67,462.79) scale(0.940,1)" font-size="8.30" text-anchor="middle" font-weight="normal" fill="#2c2c2c" stroke="#2c2c2c" stroke-width="0.10">26</text>
<text transform="translate(226.96,462.79) scale(0.940,1)" font-size="8.30" text-anchor="middle" font-weight="normal" fill="#2c2c2c" stroke="#2c2c2c" stroke-width="0.10">5</text>
<rect x="8.90" y="469.20" width="242.60" height="19.70" fill="#13517f"/>
<rect x="8.90" y="490.40" width="242.60" height="40.20" fill="#dae4ee"/>
<rect x="8.90" y="488.90" width="242.60" height="1.5" fill="#eef2f6"/>
<rect x="28.90" y="488.90" width="1.6" height="41.70" fill="#f4f7fa"/>
<rect x="8.90" y="509.40" width="20.00" height="1.6" fill="#f4f7fa"/>
<text transform="translate(12.00,485.98) scale(0.930,1)" font-size="6.60" text-anchor="start" font-weight="bold" fill="#fff">Category</text>
<text transform="translate(129.80,478.18) scale(0.930,1)" font-size="6.60" text-anchor="middle" font-weight="bold" fill="#fff">Median OS,</text>
<text transform="translate(129.80,485.98) scale(0.930,1)" font-size="6.60" text-anchor="middle" font-weight="bold" fill="#fff">months (95% CI)</text>
<text transform="translate(179.40,478.18) scale(0.930,1)" font-size="6.60" text-anchor="middle" font-weight="bold" fill="#fff">HR (95% CI);</text>
<text transform="translate(179.40,485.98) scale(0.930,1)" font-size="6.60" text-anchor="middle" font-weight="bold" fill="#fff"><tspan font-style="italic">P</tspan> value*</text>
<text transform="translate(229.20,478.18) scale(0.930,1)" font-size="6.60" text-anchor="middle" font-weight="bold" fill="#fff">5-year OS,</text>
<text transform="translate(229.20,485.98) scale(0.930,1)" font-size="6.60" text-anchor="middle" font-weight="bold" fill="#fff">% (95% CI)</text>
<text transform="translate(11.20,501.98) scale(0.900,1)" font-size="6.60" text-anchor="start" font-weight="normal" fill="#2e2e2e" stroke="#2e2e2e" stroke-width="0.10">VenR</text>
<text transform="translate(11.20,522.58) scale(0.930,1)" font-size="6.60" text-anchor="start" font-weight="normal" fill="#2e2e2e" stroke="#2e2e2e" stroke-width="0.10">BR</text>
<text transform="translate(34.50,496.98) scale(0.900,1)" font-size="6.60" text-anchor="start" font-weight="normal" fill="#2e2e2e" stroke="#2e2e2e" stroke-width="0.10">del(17p) and/or <tspan font-style="italic">TP53</tspan>-mut</text>
<text transform="translate(129.80,496.98) scale(0.900,1)" font-size="6.60" text-anchor="middle" font-weight="normal" fill="#2e2e2e" stroke="#2e2e2e" stroke-width="0.10">NE</text>
<text transform="translate(179.40,496.98) scale(0.900,1)" font-size="6.60" text-anchor="middle" font-weight="normal" fill="#2e2e2e" stroke="#2e2e2e" stroke-width="0.10">2.89 (1.31, 6.36);</text>
<text transform="translate(229.20,496.98) scale(0.900,1)" font-size="6.60" text-anchor="middle" font-weight="normal" fill="#2e2e2e" stroke="#2e2e2e" stroke-width="0.10">70.2 (56.8, 83.6)</text>
<text transform="translate(34.50,506.98) scale(0.900,1)" font-size="6.60" text-anchor="start" font-weight="normal" fill="#2e2e2e" stroke="#2e2e2e" stroke-width="0.10">No del(17p) and <tspan font-style="italic">TP53</tspan>-WT</text>
<text transform="translate(129.80,506.98) scale(0.900,1)" font-size="6.60" text-anchor="middle" font-weight="normal" fill="#2e2e2e" stroke="#2e2e2e" stroke-width="0.10">NE</text>
<text transform="translate(179.40,506.98) scale(0.900,1)" font-size="6.60" text-anchor="middle" font-weight="normal" fill="#2e2e2e" stroke="#2e2e2e" stroke-width="0.10">.0059</text>
<text transform="translate(229.20,506.98) scale(0.900,1)" font-size="6.60" text-anchor="middle" font-weight="normal" fill="#2e2e2e" stroke="#2e2e2e" stroke-width="0.10">88.7 (82.3, 95.0)</text>
<text transform="translate(34.50,517.48) scale(0.900,1)" font-size="6.60" text-anchor="start" font-weight="normal" fill="#2e2e2e" stroke="#2e2e2e" stroke-width="0.10">del(17p) and/or <tspan font-style="italic">TP53</tspan>-mut</text>
<text transform="translate(129.80,517.48) scale(0.900,1)" font-size="6.60" text-anchor="middle" font-weight="normal" fill="#2e2e2e" stroke="#2e2e2e" stroke-width="0.10">NE (47.4, NE)</text>
<text transform="translate(179.40,517.48) scale(0.900,1)" font-size="6.60" text-anchor="middle" font-weight="normal" fill="#2e2e2e" stroke="#2e2e2e" stroke-width="0.10">1.24 (0.69, 2.22);</text>
<text transform="translate(229.20,517.48) scale(0.900,1)" font-size="6.60" text-anchor="middle" font-weight="normal" fill="#2e2e2e" stroke="#2e2e2e" stroke-width="0.10">60.7 (46.0, 75.5)</text>
<text transform="translate(34.50,527.68) scale(0.900,1)" font-size="6.60" text-anchor="start" font-weight="normal" fill="#2e2e2e" stroke="#2e2e2e" stroke-width="0.10">No del(17p) and <tspan font-style="italic">TP53</tspan>-WT</text>
<text transform="translate(129.80,527.68) scale(0.900,1)" font-size="6.60" text-anchor="middle" font-weight="normal" fill="#2e2e2e" stroke="#2e2e2e" stroke-width="0.10">NE</text>
<text transform="translate(179.40,527.68) scale(0.900,1)" font-size="6.60" text-anchor="middle" font-weight="normal" fill="#2e2e2e" stroke="#2e2e2e" stroke-width="0.10">.4756</text>
<text transform="translate(229.20,527.68) scale(0.900,1)" font-size="6.60" text-anchor="middle" font-weight="normal" fill="#2e2e2e" stroke="#2e2e2e" stroke-width="0.10">61.8 (51.4, 72.2)</text>
<text transform="translate(269.50,282.79) scale(1.000,1)" font-size="10.80" text-anchor="start" font-weight="bold" fill="#000">D</text>
<line x1="297.75" y1="289.20" x2="297.75" y2="383.10" stroke="#000" stroke-width="1.30"/>
<line x1="297.15" y1="382.50" x2="505.00" y2="382.50" stroke="#000" stroke-width="1.30"/>
<line x1="294.55" y1="382.50" x2="297.75" y2="382.50" stroke="#111" stroke-width="1.00"/>
<text transform="translate(292.00,385.49) scale(0.970,1)" font-size="8.30" text-anchor="end" font-weight="normal" fill="#2c2c2c" stroke="#2c2c2c" stroke-width="0.10">0</text>
<line x1="294.55" y1="364.65" x2="297.75" y2="364.65" stroke="#111" stroke-width="1.00"/>
<text transform="translate(292.00,367.64) scale(0.970,1)" font-size="8.30" text-anchor="end" font-weight="normal" fill="#2c2c2c" stroke="#2c2c2c" stroke-width="0.10">20</text>
<line x1="294.55" y1="346.80" x2="297.75" y2="346.80" stroke="#111" stroke-width="1.00"/>
<text transform="translate(292.00,349.79) scale(0.970,1)" font-size="8.30" text-anchor="end" font-weight="normal" fill="#2c2c2c" stroke="#2c2c2c" stroke-width="0.10">40</text>
<line x1="294.55" y1="328.95" x2="297.75" y2="328.95" stroke="#111" stroke-width="1.00"/>
<text transform="translate(292.00,331.94) scale(0.970,1)" font-size="8.30" text-anchor="end" font-weight="normal" fill="#2c2c2c" stroke="#2c2c2c" stroke-width="0.10">60</text>
<line x1="294.55" y1="311.10" x2="297.75" y2="311.10" stroke="#111" stroke-width="1.00"/>
<text transform="translate(292.00,314.09) scale(0.970,1)" font-size="8.30" text-anchor="end" font-weight="normal" fill="#2c2c2c" stroke="#2c2c2c" stroke-width="0.10">80</text>
<line x1="294.55" y1="293.25" x2="297.75" y2="293.25" stroke="#111" stroke-width="1.00"/>
<text transform="translate(292.00,296.24) scale(0.970,1)" font-size="8.30" text-anchor="end" font-weight="normal" fill="#2c2c2c" stroke="#2c2c2c" stroke-width="0.10">100</text>
<text transform="translate(277.40,337.60) rotate(-90) scale(0.69,1)" font-size="10.0" text-anchor="middle" fill="#2c2c2c">OS (%)</text>
<line x1="297.75" y1="382.50" x2="297.75" y2="385.70" stroke="#111" stroke-width="1.00"/>
<text transform="translate(297.75,394.86) scale(0.970,1)" font-size="8.50" text-anchor="middle" font-weight="normal" fill="#2c2c2c" stroke="#2c2c2c" stroke-width="0.10">0</text>
<line x1="347.16" y1="382.50" x2="347.16" y2="385.70" stroke="#111" stroke-width="1.00"/>
<text transform="translate(347.16,394.86) scale(0.970,1)" font-size="8.50" text-anchor="middle" font-weight="normal" fill="#2c2c2c" stroke="#2c2c2c" stroke-width="0.10">20</text>
<line x1="396.57" y1="382.50" x2="396.57" y2="385.70" stroke="#111" stroke-width="1.00"/>
<text transform="translate(396.57,394.86) scale(0.970,1)" font-size="8.50" text-anchor="middle" font-weight="normal" fill="#2c2c2c" stroke="#2c2c2c" stroke-width="0.10">40</text>
<line x1="445.99" y1="382.50" x2="445.99" y2="385.70" stroke="#111" stroke-width="1.00"/>
<text transform="translate(445.99,394.86) scale(0.970,1)" font-size="8.50" text-anchor="middle" font-weight="normal" fill="#2c2c2c" stroke="#2c2c2c" stroke-width="0.10">60</text>
<line x1="495.40" y1="382.50" x2="495.40" y2="385.70" stroke="#111" stroke-width="1.00"/>
<text transform="translate(495.40,394.86) scale(0.970,1)" font-size="8.50" text-anchor="middle" font-weight="normal" fill="#2c2c2c" stroke="#2c2c2c" stroke-width="0.10">80</text>
<text transform="translate(401.80,406.24) scale(0.830,1)" font-size="9.00" text-anchor="middle" font-weight="normal" fill="#2c2c2c" stroke="#2c2c2c" stroke-width="0.10">Time (months)</text>
<line x1="302.80" y1="342.00" x2="311.10" y2="342.00" stroke="#1a5a90" stroke-width="1.40"/>
<text transform="translate(314.20,344.32) scale(0.910,1)" font-size="8.10" text-anchor="start" font-weight="normal" fill="#2c2c2c" stroke="#2c2c2c" stroke-width="0.10">VenR GC (CNA ≥3), n = 48</text>
<line x1="302.80" y1="352.30" x2="311.10" y2="352.30" stroke="#1a5a90" stroke-width="1.40" stroke-dasharray="1.6,1.4"/>
<text transform="translate(314.20,354.62) scale(0.910,1)" font-size="8.10" text-anchor="start" font-weight="normal" fill="#2c2c2c" stroke="#2c2c2c" stroke-width="0.10">VenR no GC (CNA ≤2), n = 94</text>
<line x1="302.80" y1="363.30" x2="311.10" y2="363.30" stroke="#c81436" stroke-width="1.40"/>
<text transform="translate(314.20,365.62) scale(0.910,1)" font-size="8.10" text-anchor="start" font-weight="normal" fill="#2c2c2c" stroke="#2c2c2c" stroke-width="0.10">BR GC (CNA ≥3), n = 46</text>
<line x1="302.80" y1="373.60" x2="311.10" y2="373.60" stroke="#c81436" stroke-width="1.40" stroke-dasharray="1.6,1.4"/>
<text transform="translate(314.20,375.92) scale(0.910,1)" font-size="8.10" text-anchor="start" font-weight="normal" fill="#2c2c2c" stroke="#2c2c2c" stroke-width="0.10">BR no GC (CNA ≤2), n = 100</text>
<polyline points="297.50,293.25 307.50,295.80 320.00,297.00 357.00,297.20 357.00,302.10 377.00,302.10 377.00,304.70 408.90,304.70 408.90,306.30 435.20,306.30 437.90,311.50 471.90,311.50" fill="none" stroke="#1a5a90" stroke-width="1.60" stroke-linejoin="miter" stroke-miterlimit="10"/>
<polyline points="297.50,293.25 307.50,295.50 320.00,296.50 357.00,297.00 357.00,302.00 408.30,302.00 410.00,303.10 432.00,303.10 440.00,305.60 471.90,305.60" fill="none" stroke="#1a5a90" stroke-width="1.60" stroke-dasharray="2.6,2.4" stroke-linejoin="miter" stroke-miterlimit="10"/>
<polyline points="297.50,293.50 316.60,293.30 316.60,298.50 318.10,298.50 318.10,301.40 321.00,301.40 321.00,303.80 323.80,303.80 323.80,306.20 328.20,306.20 328.20,308.10 331.50,308.10 331.50,310.00 334.40,310.00 334.40,311.50 350.00,311.50 350.00,314.50 360.00,314.50 360.00,316.60 382.50,316.60 382.50,319.10 384.40,326.60 392.50,328.50 396.00,331.00 416.00,331.00 416.00,338.50 462.00,338.50" fill="none" stroke="#c81436" stroke-width="1.60" stroke-linejoin="miter" stroke-miterlimit="10"/>
<polyline points="297.50,293.25 316.60,296.00 318.00,298.50 335.40,298.50 337.00,300.80 357.00,300.80 370.00,304.80 377.00,307.50 390.00,307.70 400.00,310.80 410.00,312.80 420.00,312.80 425.00,316.80 432.00,318.90 437.00,320.20 442.00,322.20 465.90,322.20" fill="none" stroke="#c81436" stroke-width="1.60" stroke-dasharray="2.6,2.4" stroke-linejoin="miter" stroke-miterlimit="10"/>
<line x1="301.00" y1="291.94" x2="301.00" y2="296.34" stroke="#1a5a90" stroke-width="0.90"/>
<line x1="305.00" y1="292.96" x2="305.00" y2="297.36" stroke="#1a5a90" stroke-width="0.90"/>
<line x1="312.00" y1="294.03" x2="312.00" y2="298.43" stroke="#1a5a90" stroke-width="0.90"/>
<line x1="427.70" y1="304.10" x2="427.70" y2="308.50" stroke="#1a5a90" stroke-width="0.90"/>
<line x1="430.80" y1="304.10" x2="430.80" y2="308.50" stroke="#1a5a90" stroke-width="0.90"/>
<line x1="438.50" y1="309.30" x2="438.50" y2="313.70" stroke="#1a5a90" stroke-width="0.90"/>
<line x1="440.80" y1="309.30" x2="440.80" y2="313.70" stroke="#1a5a90" stroke-width="0.90"/>
<line x1="457.00" y1="309.30" x2="457.00" y2="313.70" stroke="#1a5a90" stroke-width="0.90"/>
<line x1="470.80" y1="309.30" x2="470.80" y2="313.70" stroke="#1a5a90" stroke-width="0.90"/>
<polyline points="446.00,311.50 453.00,311.50" fill="none" stroke="#1a5a90" stroke-width="2.60" stroke-linejoin="miter" stroke-miterlimit="10"/>
<line x1="446.00" y1="309.50" x2="446.00" y2="313.50" stroke="#1a5a90" stroke-width="0.90"/>
<line x1="453.00" y1="309.50" x2="453.00" y2="313.50" stroke="#1a5a90" stroke-width="0.90"/>
<line x1="303.00" y1="292.29" x2="303.00" y2="296.69" stroke="#1a5a90" stroke-width="0.90"/>
<line x1="309.00" y1="293.42" x2="309.00" y2="297.82" stroke="#1a5a90" stroke-width="0.90"/>
<line x1="330.00" y1="294.44" x2="330.00" y2="298.84" stroke="#1a5a90" stroke-width="0.90"/>
<line x1="340.00" y1="294.57" x2="340.00" y2="298.97" stroke="#1a5a90" stroke-width="0.90"/>
<line x1="348.00" y1="294.68" x2="348.00" y2="299.08" stroke="#1a5a90" stroke-width="0.90"/>
<line x1="356.00" y1="294.79" x2="356.00" y2="299.19" stroke="#1a5a90" stroke-width="0.90"/>
<line x1="417.70" y1="300.90" x2="417.70" y2="305.30" stroke="#1a5a90" stroke-width="0.90"/>
<line x1="421.50" y1="300.90" x2="421.50" y2="305.30" stroke="#1a5a90" stroke-width="0.90"/>
<line x1="423.00" y1="300.90" x2="423.00" y2="305.30" stroke="#1a5a90" stroke-width="0.90"/>
<line x1="440.00" y1="303.40" x2="440.00" y2="307.80" stroke="#1a5a90" stroke-width="0.90"/>
<line x1="453.00" y1="303.40" x2="453.00" y2="307.80" stroke="#1a5a90" stroke-width="0.90"/>
<line x1="470.80" y1="303.40" x2="470.80" y2="307.80" stroke="#1a5a90" stroke-width="0.90"/>
<polyline points="427.00,303.10 432.00,303.10 433.80,303.66" fill="none" stroke="#1a5a90" stroke-width="2.60" stroke-linejoin="miter" stroke-miterlimit="10"/>
<line x1="427.00" y1="301.10" x2="427.00" y2="305.10" stroke="#1a5a90" stroke-width="0.90"/>
<line x1="433.80" y1="301.66" x2="433.80" y2="305.66" stroke="#1a5a90" stroke-width="0.90"/>
<polyline points="443.00,305.60 450.80,305.60" fill="none" stroke="#1a5a90" stroke-width="2.60" stroke-linejoin="miter" stroke-miterlimit="10"/>
<line x1="443.00" y1="303.60" x2="443.00" y2="307.60" stroke="#1a5a90" stroke-width="0.90"/>
<line x1="450.80" y1="303.60" x2="450.80" y2="307.60" stroke="#1a5a90" stroke-width="0.90"/>
<polyline points="456.20,305.60 461.50,305.60" fill="none" stroke="#1a5a90" stroke-width="2.60" stroke-linejoin="miter" stroke-miterlimit="10"/>
<line x1="456.20" y1="303.60" x2="456.20" y2="307.60" stroke="#1a5a90" stroke-width="0.90"/>
<line x1="461.50" y1="303.60" x2="461.50" y2="307.60" stroke="#1a5a90" stroke-width="0.90"/>
<line x1="300.00" y1="291.27" x2="300.00" y2="295.67" stroke="#c81436" stroke-width="0.90"/>
<line x1="305.00" y1="291.22" x2="305.00" y2="295.62" stroke="#c81436" stroke-width="0.90"/>
<line x1="311.00" y1="291.16" x2="311.00" y2="295.56" stroke="#c81436" stroke-width="0.90"/>
<line x1="318.00" y1="296.30" x2="318.00" y2="300.70" stroke="#c81436" stroke-width="0.90"/>
<line x1="330.00" y1="305.90" x2="330.00" y2="310.30" stroke="#c81436" stroke-width="0.90"/>
<line x1="427.70" y1="336.30" x2="427.70" y2="340.70" stroke="#c81436" stroke-width="0.90"/>
<line x1="433.00" y1="336.30" x2="433.00" y2="340.70" stroke="#c81436" stroke-width="0.90"/>
<line x1="444.60" y1="336.30" x2="444.60" y2="340.70" stroke="#c81436" stroke-width="0.90"/>
<line x1="446.20" y1="336.30" x2="446.20" y2="340.70" stroke="#c81436" stroke-width="0.90"/>
<line x1="456.20" y1="336.30" x2="456.20" y2="340.70" stroke="#c81436" stroke-width="0.90"/>
<line x1="458.50" y1="336.30" x2="458.50" y2="340.70" stroke="#c81436" stroke-width="0.90"/>
<line x1="461.50" y1="336.30" x2="461.50" y2="340.70" stroke="#c81436" stroke-width="0.90"/>
<polyline points="436.20,338.50 439.20,338.50" fill="none" stroke="#c81436" stroke-width="2.60" stroke-linejoin="miter" stroke-miterlimit="10"/>
<line x1="436.20" y1="336.50" x2="436.20" y2="340.50" stroke="#c81436" stroke-width="0.90"/>
<line x1="439.20" y1="336.50" x2="439.20" y2="340.50" stroke="#c81436" stroke-width="0.90"/>
<line x1="308.00" y1="292.56" x2="308.00" y2="296.96" stroke="#c81436" stroke-width="0.90"/>
<line x1="318.00" y1="296.30" x2="318.00" y2="300.70" stroke="#c81436" stroke-width="0.90"/>
<line x1="327.00" y1="296.30" x2="327.00" y2="300.70" stroke="#c81436" stroke-width="0.90"/>
<line x1="340.00" y1="298.60" x2="340.00" y2="303.00" stroke="#c81436" stroke-width="0.90"/>
<line x1="350.00" y1="298.60" x2="350.00" y2="303.00" stroke="#c81436" stroke-width="0.90"/>
<line x1="394.00" y1="306.74" x2="394.00" y2="311.14" stroke="#c81436" stroke-width="0.90"/>
<line x1="403.80" y1="309.36" x2="403.80" y2="313.76" stroke="#c81436" stroke-width="0.90"/>
<line x1="428.50" y1="315.65" x2="428.50" y2="320.05" stroke="#c81436" stroke-width="0.90"/>
<line x1="433.00" y1="316.96" x2="433.00" y2="321.36" stroke="#c81436" stroke-width="0.90"/>
<line x1="458.50" y1="320.00" x2="458.50" y2="324.40" stroke="#c81436" stroke-width="0.90"/>
<line x1="463.00" y1="320.00" x2="463.00" y2="324.40" stroke="#c81436" stroke-width="0.90"/>
<polyline points="434.60,319.58 437.00,320.20 437.70,320.48" fill="none" stroke="#c81436" stroke-width="2.60" stroke-linejoin="miter" stroke-miterlimit="10"/>
<line x1="434.60" y1="317.58" x2="434.60" y2="321.58" stroke="#c81436" stroke-width="0.90"/>
<line x1="437.70" y1="318.48" x2="437.70" y2="322.48" stroke="#c81436" stroke-width="0.90"/>
<polyline points="440.00,321.40 442.00,322.20 455.40,322.20" fill="none" stroke="#c81436" stroke-width="2.60" stroke-linejoin="miter" stroke-miterlimit="10"/>
<line x1="440.00" y1="319.40" x2="440.00" y2="323.40" stroke="#c81436" stroke-width="0.90"/>
<line x1="455.40" y1="320.20" x2="455.40" y2="324.20" stroke="#c81436" stroke-width="0.90"/>
<text transform="translate(277.60,419.25) scale(1.010,1)" font-size="8.20" text-anchor="start" font-weight="normal" fill="#2c2c2c" stroke="#2c2c2c" stroke-width="0.10">No. of patients at risk</text>
<line x1="278.00" y1="428.00" x2="286.00" y2="428.00" stroke="#1a5a90" stroke-width="1.40"/>
<text transform="translate(297.75,430.99) scale(0.940,1)" font-size="8.30" text-anchor="middle" font-weight="normal" fill="#2c2c2c" stroke="#2c2c2c" stroke-width="0.10">48</text>
<text transform="translate(347.16,430.99) scale(0.940,1)" font-size="8.30" text-anchor="middle" font-weight="normal" fill="#2c2c2c" stroke="#2c2c2c" stroke-width="0.10">43</text>
<text transform="translate(396.57,430.99) scale(0.940,1)" font-size="8.30" text-anchor="middle" font-weight="normal" fill="#2c2c2c" stroke="#2c2c2c" stroke-width="0.10">40</text>
<text transform="translate(445.99,430.99) scale(0.940,1)" font-size="8.30" text-anchor="middle" font-weight="normal" fill="#2c2c2c" stroke="#2c2c2c" stroke-width="0.10">20</text>
<text transform="translate(495.40,430.99) scale(0.940,1)" font-size="8.30" text-anchor="middle" font-weight="normal" fill="#2c2c2c" stroke="#2c2c2c" stroke-width="0.10">0</text>
<line x1="278.00" y1="438.70" x2="286.00" y2="438.70" stroke="#1a5a90" stroke-width="1.40" stroke-dasharray="1.6,1.4"/>
<text transform="translate(297.75,441.69) scale(0.940,1)" font-size="8.30" text-anchor="middle" font-weight="normal" fill="#2c2c2c" stroke="#2c2c2c" stroke-width="0.10">94</text>
<text transform="translate(347.16,441.69) scale(0.940,1)" font-size="8.30" text-anchor="middle" font-weight="normal" fill="#2c2c2c" stroke="#2c2c2c" stroke-width="0.10">88</text>
<text transform="translate(396.57,441.69) scale(0.940,1)" font-size="8.30" text-anchor="middle" font-weight="normal" fill="#2c2c2c" stroke="#2c2c2c" stroke-width="0.10">83</text>
<text transform="translate(445.99,441.69) scale(0.940,1)" font-size="8.30" text-anchor="middle" font-weight="normal" fill="#2c2c2c" stroke="#2c2c2c" stroke-width="0.10">33</text>
<text transform="translate(495.40,441.69) scale(0.940,1)" font-size="8.30" text-anchor="middle" font-weight="normal" fill="#2c2c2c" stroke="#2c2c2c" stroke-width="0.10">0</text>
<line x1="278.00" y1="449.20" x2="286.00" y2="449.20" stroke="#c81436" stroke-width="1.40"/>
<text transform="translate(297.75,452.19) scale(0.940,1)" font-size="8.30" text-anchor="middle" font-weight="normal" fill="#2c2c2c" stroke="#2c2c2c" stroke-width="0.10">46</text>
<text transform="translate(347.16,452.19) scale(0.940,1)" font-size="8.30" text-anchor="middle" font-weight="normal" fill="#2c2c2c" stroke="#2c2c2c" stroke-width="0.10">29</text>
<text transform="translate(396.57,452.19) scale(0.940,1)" font-size="8.30" text-anchor="middle" font-weight="normal" fill="#2c2c2c" stroke="#2c2c2c" stroke-width="0.10">22</text>
<text transform="translate(445.99,452.19) scale(0.940,1)" font-size="8.30" text-anchor="middle" font-weight="normal" fill="#2c2c2c" stroke="#2c2c2c" stroke-width="0.10">6</text>
<text transform="translate(495.40,452.19) scale(0.940,1)" font-size="8.30" text-anchor="middle" font-weight="normal" fill="#2c2c2c" stroke="#2c2c2c" stroke-width="0.10">0</text>
<line x1="278.00" y1="459.80" x2="286.00" y2="459.80" stroke="#c81436" stroke-width="1.40" stroke-dasharray="1.6,1.4"/>
<text transform="translate(297.75,462.79) scale(0.940,1)" font-size="8.30" text-anchor="middle" font-weight="normal" fill="#2c2c2c" stroke="#2c2c2c" stroke-width="0.10">100</text>
<text transform="translate(347.16,462.79) scale(0.940,1)" font-size="8.30" text-anchor="middle" font-weight="normal" fill="#2c2c2c" stroke="#2c2c2c" stroke-width="0.10">82</text>
<text transform="translate(396.57,462.79) scale(0.940,1)" font-size="8.30" text-anchor="middle" font-weight="normal" fill="#2c2c2c" stroke="#2c2c2c" stroke-width="0.10">72</text>
<text transform="translate(445.99,462.79) scale(0.940,1)" font-size="8.30" text-anchor="middle" font-weight="normal" fill="#2c2c2c" stroke="#2c2c2c" stroke-width="0.10">30</text>
<text transform="translate(495.40,462.79) scale(0.940,1)" font-size="8.30" text-anchor="middle" font-weight="normal" fill="#2c2c2c" stroke="#2c2c2c" stroke-width="0.10">0</text>
<rect x="269.90" y="469.20" width="242.60" height="19.70" fill="#13517f"/>
<rect x="269.90" y="490.40" width="242.60" height="40.20" fill="#dae4ee"/>
<rect x="269.90" y="488.90" width="242.60" height="1.5" fill="#eef2f6"/>
<rect x="290.00" y="488.90" width="1.6" height="41.70" fill="#f4f7fa"/>
<rect x="269.90" y="509.40" width="20.10" height="1.6" fill="#f4f7fa"/>
<text transform="translate(273.00,485.98) scale(0.930,1)" font-size="6.60" text-anchor="start" font-weight="bold" fill="#fff">Category</text>
<text transform="translate(364.50,478.18) scale(0.930,1)" font-size="6.60" text-anchor="middle" font-weight="bold" fill="#fff">Median OS,</text>
<text transform="translate(364.50,485.98) scale(0.930,1)" font-size="6.60" text-anchor="middle" font-weight="bold" fill="#fff">months (95% CI)</text>
<text transform="translate(427.80,478.18) scale(0.930,1)" font-size="6.60" text-anchor="middle" font-weight="bold" fill="#fff">HR (95% CI);</text>
<text transform="translate(427.80,485.98) scale(0.930,1)" font-size="6.60" text-anchor="middle" font-weight="bold" fill="#fff"><tspan font-style="italic">P</tspan> value*</text>
<text transform="translate(488.50,478.18) scale(0.930,1)" font-size="6.60" text-anchor="middle" font-weight="bold" fill="#fff">5-year OS,</text>
<text transform="translate(488.50,485.98) scale(0.930,1)" font-size="6.60" text-anchor="middle" font-weight="bold" fill="#fff">% (95% CI)</text>
<text transform="translate(272.20,501.98) scale(0.900,1)" font-size="6.60" text-anchor="start" font-weight="normal" fill="#2e2e2e" stroke="#2e2e2e" stroke-width="0.10">VenR</text>
<text transform="translate(272.20,522.58) scale(0.930,1)" font-size="6.60" text-anchor="start" font-weight="normal" fill="#2e2e2e" stroke="#2e2e2e" stroke-width="0.10">BR</text>
<text transform="translate(295.80,496.98) scale(0.950,1)" font-size="6.60" text-anchor="start" font-weight="normal" fill="#2e2e2e" stroke="#2e2e2e" stroke-width="0.10">GC</text>
<text transform="translate(364.50,496.98) scale(0.930,1)" font-size="6.60" text-anchor="middle" font-weight="normal" fill="#2e2e2e" stroke="#2e2e2e" stroke-width="0.10">NE</text>
<text transform="translate(427.80,496.98) scale(0.930,1)" font-size="6.60" text-anchor="middle" font-weight="normal" fill="#2e2e2e" stroke="#2e2e2e" stroke-width="0.10">1.52 (3.57, 0.64);</text>
<text transform="translate(488.20,496.98) scale(0.930,1)" font-size="6.60" text-anchor="middle" font-weight="normal" fill="#2e2e2e" stroke="#2e2e2e" stroke-width="0.10">79.6 (68.5, 92.6)</text>
<text transform="translate(295.80,506.98) scale(0.950,1)" font-size="6.60" text-anchor="start" font-weight="normal" fill="#2e2e2e" stroke="#2e2e2e" stroke-width="0.10">No GC</text>
<text transform="translate(364.50,506.98) scale(0.930,1)" font-size="6.60" text-anchor="middle" font-weight="normal" fill="#2e2e2e" stroke="#2e2e2e" stroke-width="0.10">NE</text>
<text transform="translate(427.80,506.98) scale(0.930,1)" font-size="6.60" text-anchor="middle" font-weight="normal" fill="#2e2e2e" stroke="#2e2e2e" stroke-width="0.10">.3</text>
<text transform="translate(488.20,506.98) scale(0.930,1)" font-size="6.60" text-anchor="middle" font-weight="normal" fill="#2e2e2e" stroke="#2e2e2e" stroke-width="0.10">86.2 (79.1, 93.9)</text>
<text transform="translate(295.80,517.48) scale(0.950,1)" font-size="6.60" text-anchor="start" font-weight="normal" fill="#2e2e2e" stroke="#2e2e2e" stroke-width="0.10">GC</text>
<text transform="translate(364.50,517.48) scale(0.930,1)" font-size="6.60" text-anchor="middle" font-weight="normal" fill="#2e2e2e" stroke="#2e2e2e" stroke-width="0.10">48.4 (34.9, NE)</text>
<text transform="translate(427.80,517.48) scale(0.930,1)" font-size="6.60" text-anchor="middle" font-weight="normal" fill="#2e2e2e" stroke="#2e2e2e" stroke-width="0.10">1.96 (3.57, 1.10);</text>
<text transform="translate(488.20,517.48) scale(0.930,1)" font-size="6.60" text-anchor="middle" font-weight="normal" fill="#2e2e2e" stroke="#2e2e2e" stroke-width="0.10">49.3 (35.6, 68.3)</text>
<text transform="translate(295.80,527.68) scale(0.950,1)" font-size="6.60" text-anchor="start" font-weight="normal" fill="#2e2e2e" stroke="#2e2e2e" stroke-width="0.10">No GC</text>
<text transform="translate(364.50,527.68) scale(0.930,1)" font-size="6.60" text-anchor="middle" font-weight="normal" fill="#2e2e2e" stroke="#2e2e2e" stroke-width="0.10">NE</text>
<text transform="translate(427.80,527.68) scale(0.930,1)" font-size="6.60" text-anchor="middle" font-weight="normal" fill="#2e2e2e" stroke="#2e2e2e" stroke-width="0.10">.02</text>
<text transform="translate(488.20,527.68) scale(0.930,1)" font-size="6.60" text-anchor="middle" font-weight="normal" fill="#2e2e2e" stroke="#2e2e2e" stroke-width="0.10">67.6 (58.2, 78.4)</text>
<rect x="0.5" y="0.5" width="519" height="537" fill="none" stroke="#000" stroke-width="1.3"/>
</svg>
</body></html>
